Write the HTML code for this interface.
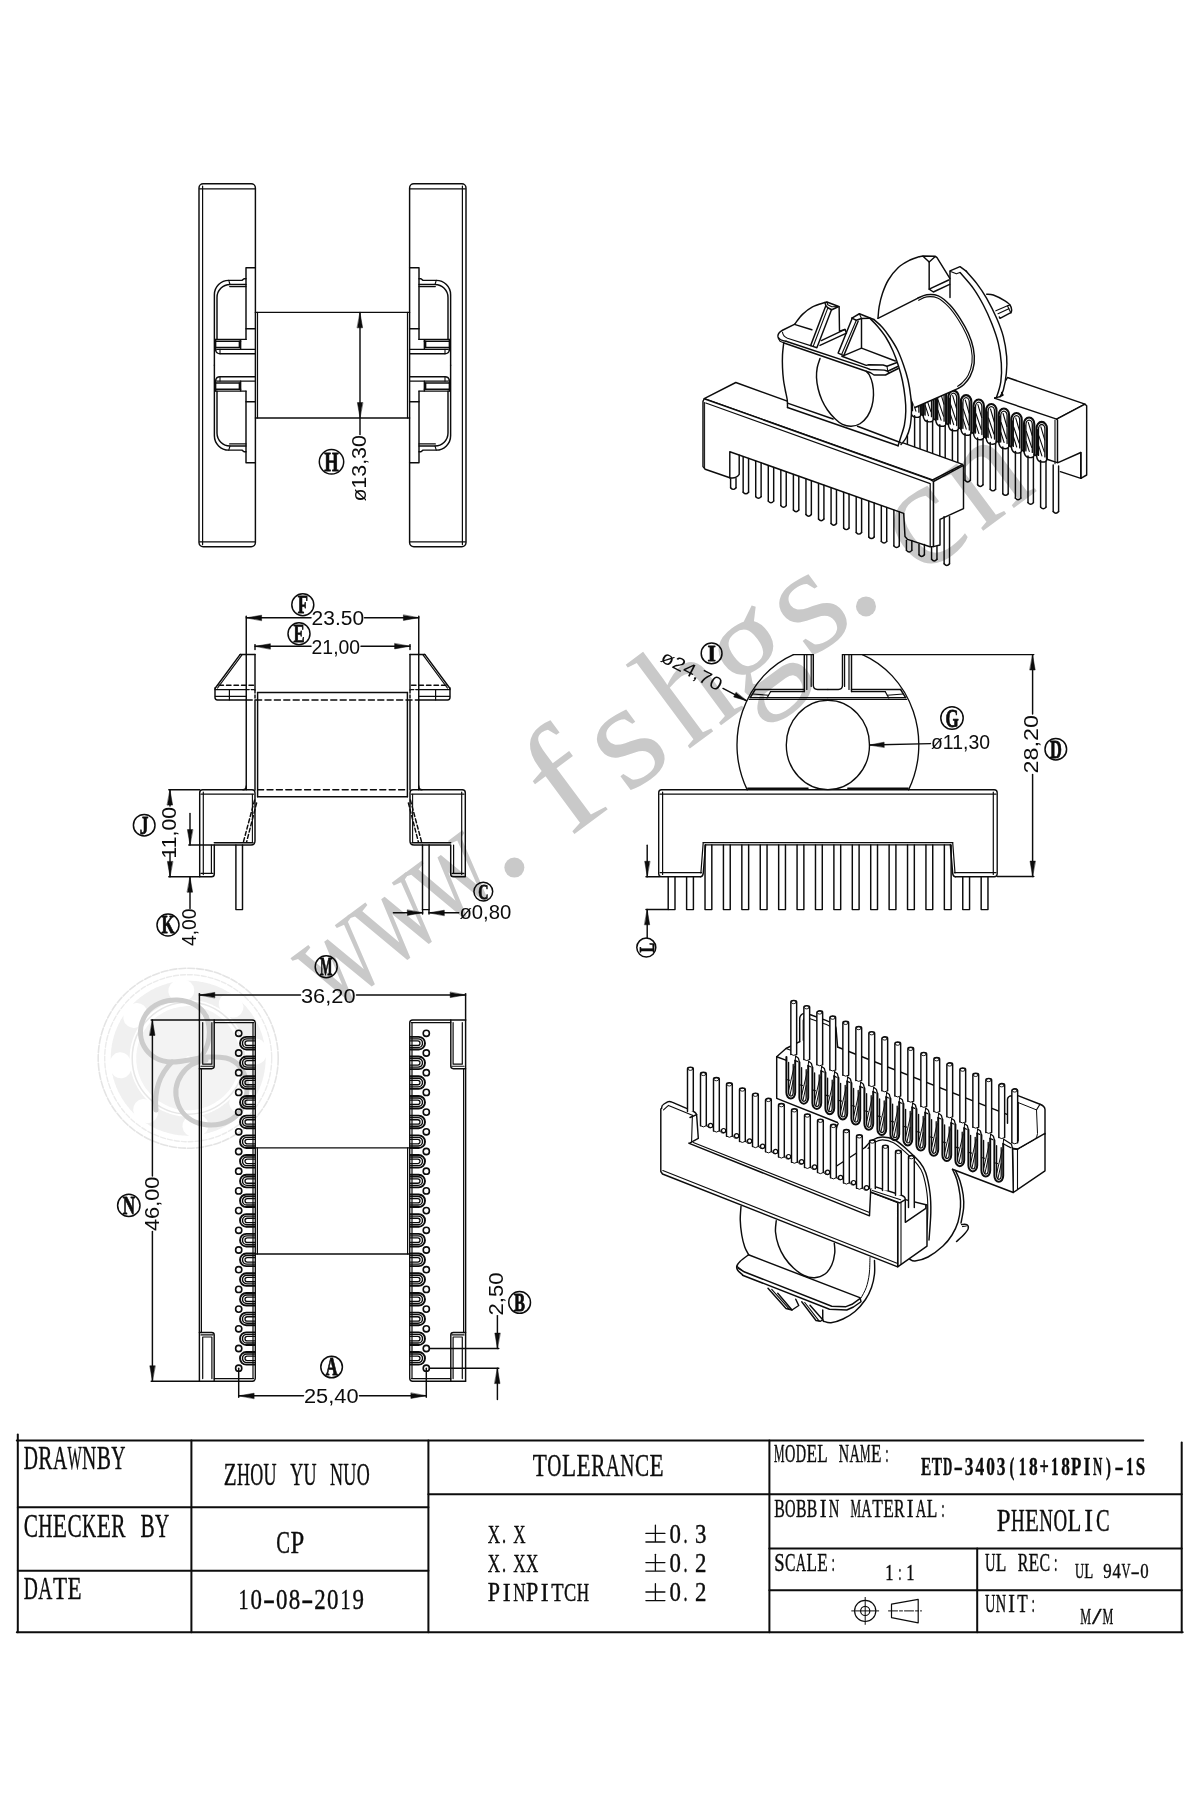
<!DOCTYPE html>
<html><head><meta charset="utf-8"><title>ETD-3403(18+18PIN)-1S</title>
<style>
html,body{margin:0;padding:0;background:#fff;}
body{width:1200px;height:1800px;overflow:hidden;font-family:"Liberation Sans",sans-serif;}
svg{display:block;opacity:0.9999;will-change:transform;}
</style></head><body>
<svg width="1200" height="1800" viewBox="0 0 1200 1800" fill="none" stroke="#0c0c0c" stroke-width="1.45" stroke-linecap="round" stroke-linejoin="round">
<rect x="0" y="0" width="1200" height="1800" fill="#ffffff" stroke="none"/>
<g id="title">
<path d="M17.8,1434.5 L17.8,1632.2" stroke-width="2"/>
<path d="M16.8,1440.6 L1143.3,1440.6" stroke-width="2"/>
<path d="M16.8,1632.2 L1182.7,1632.2" stroke-width="2"/>
<path d="M1181.7,1442.5 L1181.7,1632.2" stroke-width="2"/>
<path d="M191.4,1440.6 L191.4,1632.2" stroke-width="2"/>
<path d="M428.4,1440.6 L428.4,1632.2" stroke-width="2"/>
<path d="M769.4,1440.6 L769.4,1632.2" stroke-width="2"/>
<path d="M17.8,1507.2 L428.4,1507.2" stroke-width="2"/>
<path d="M17.8,1570.8 L428.4,1570.8" stroke-width="2"/>
<path d="M428.4,1494.2 L1181.7,1494.2" stroke-width="2"/>
<path d="M769.4,1548.6 L1181.7,1548.6" stroke-width="2"/>
<path d="M769.4,1590.2 L1181.7,1590.2" stroke-width="2"/>
<path d="M977.2,1548.6 L977.2,1632.2" stroke-width="2"/>
<text transform="translate(0 1469.4) scale(0.6 1)" x="51.33 100 148.67 197.33" y="0" font-family="Liberation Serif, serif" font-size="32.82" text-anchor="middle" fill="#0c0c0c" stroke="#0c0c0c" stroke-width="0.4">DANY</text><text transform="translate(0 1469.4) scale(0.65 1)" x="69.85 159.69" y="0" font-family="Liberation Serif, serif" font-size="32.82" text-anchor="middle" fill="#0c0c0c" stroke="#0c0c0c" stroke-width="0.4">RB</text><text transform="translate(0 1469.4) scale(0.46 1)" x="162.17" y="0" font-family="Liberation Serif, serif" font-size="32.82" text-anchor="middle" fill="#0c0c0c" stroke="#0c0c0c" stroke-width="0.4">W</text>
<text transform="translate(0 1537) scale(0.65 1)" x="47.38 114.77 182.15 227.08" y="0" font-family="Liberation Serif, serif" font-size="32.82" text-anchor="middle" fill="#0c0c0c" stroke="#0c0c0c" stroke-width="0.4">CCRB</text><text transform="translate(0 1537) scale(0.6 1)" x="75.67 148.67 270.33" y="0" font-family="Liberation Serif, serif" font-size="32.82" text-anchor="middle" fill="#0c0c0c" stroke="#0c0c0c" stroke-width="0.4">HKY</text><text transform="translate(0 1537) scale(0.71 1)" x="84.51 146.2" y="0" font-family="Liberation Serif, serif" font-size="32.82" text-anchor="middle" fill="#0c0c0c" stroke="#0c0c0c" stroke-width="0.4">EE</text>
<text transform="translate(0 1598.8) scale(0.61 1)" x="50.49 74.43" y="0" font-family="Liberation Serif, serif" font-size="32.06" text-anchor="middle" fill="#0c0c0c" stroke="#0c0c0c" stroke-width="0.4">DA</text><text transform="translate(0 1598.8) scale(0.72 1)" x="83.33 103.61" y="0" font-family="Liberation Serif, serif" font-size="32.06" text-anchor="middle" fill="#0c0c0c" stroke="#0c0c0c" stroke-width="0.4">TE</text>
<text transform="translate(0 1485.4) scale(0.69 1)" x="333.55" y="0" font-family="Liberation Serif, serif" font-size="30.53" text-anchor="middle" fill="#0c0c0c" stroke="#0c0c0c" stroke-width="0.4">Z</text><text transform="translate(0 1485.4) scale(0.59 1)" x="412.63 435.17 457.71 502.8 525.34 570.42 592.97 615.51" y="0" font-family="Liberation Serif, serif" font-size="30.53" text-anchor="middle" fill="#0c0c0c" stroke="#0c0c0c" stroke-width="0.4">HOUYUNUO</text>
<text transform="translate(0 1552.6) scale(0.64 1)" x="442.34" y="0" font-family="Liberation Serif, serif" font-size="32.06" text-anchor="middle" fill="#0c0c0c" stroke="#0c0c0c" stroke-width="0.4">C</text><text transform="translate(0 1552.6) scale(0.77 1)" x="386.1" y="0" font-family="Liberation Serif, serif" font-size="32.06" text-anchor="middle" fill="#0c0c0c" stroke="#0c0c0c" stroke-width="0.4">P</text>
<text transform="translate(0 1609.4) scale(0.69 1)" x="353.01 500.83" y="0" font-family="Liberation Serif, serif" font-size="29.01" text-anchor="middle" fill="#0c0c0c" stroke="#0c0c0c" stroke-width="0.4">11</text><text transform="translate(0 1609.4) scale(0.79 1)" x="324.46 356.74 372.88 405.16 421.3 453.58" y="0" font-family="Liberation Serif, serif" font-size="29.01" text-anchor="middle" fill="#0c0c0c" stroke="#0c0c0c" stroke-width="0.4">008209</text><text transform="translate(0 1609.4) scale(1.25 1)" x="215.26 245.86" y="0" font-family="Liberation Serif, serif" font-size="29.01" text-anchor="middle" fill="#0c0c0c" stroke="#0c0c0c" stroke-width="0.4">--</text>
<text transform="translate(0 1475.8) scale(0.72 1)" x="749.72 790.28 810.56 911.94" y="0" font-family="Liberation Serif, serif" font-size="32.06" text-anchor="middle" fill="#0c0c0c" stroke="#0c0c0c" stroke-width="0.4">TLEE</text><text transform="translate(0 1475.8) scale(0.61 1)" x="908.85 1004.59 1028.52" y="0" font-family="Liberation Serif, serif" font-size="32.06" text-anchor="middle" fill="#0c0c0c" stroke="#0c0c0c" stroke-width="0.4">OAN</text><text transform="translate(0 1475.8) scale(0.66 1)" x="906.36 972.73" y="0" font-family="Liberation Serif, serif" font-size="32.06" text-anchor="middle" fill="#0c0c0c" stroke="#0c0c0c" stroke-width="0.4">RC</text>
<text transform="translate(0 1542.6) scale(0.65 1)" x="759.92 799" y="0" font-family="Liberation Serif, serif" font-size="26.26" text-anchor="middle" fill="#0c0c0c" stroke="#0c0c0c" stroke-width="0.4">XX</text><text transform="translate(0 1542.6) scale(0.62 1)" x="813.08" y="0" font-family="Liberation Serif, serif" font-size="26.26" text-anchor="middle" fill="#0c0c0c" stroke="#0c0c0c" stroke-width="0.4">.</text>
<text transform="translate(0 1571.8) scale(0.65 1)" x="759.92 799 818.54" y="0" font-family="Liberation Serif, serif" font-size="26.26" text-anchor="middle" fill="#0c0c0c" stroke="#0c0c0c" stroke-width="0.4">XXX</text><text transform="translate(0 1571.8) scale(0.62 1)" x="813.08" y="0" font-family="Liberation Serif, serif" font-size="26.26" text-anchor="middle" fill="#0c0c0c" stroke="#0c0c0c" stroke-width="0.4">.</text>
<text transform="translate(0 1601.2) scale(0.84 1)" x="588.04 633.39" y="0" font-family="Liberation Serif, serif" font-size="26.26" text-anchor="middle" fill="#0c0c0c" stroke="#0c0c0c" stroke-width="0.4">PP</text><text transform="translate(0 1601.2) scale(0.9 1)" x="562.94 605.28" y="0" font-family="Liberation Serif, serif" font-size="26.26" text-anchor="middle" fill="#0c0c0c" stroke="#0c0c0c" stroke-width="0.4">II</text><text transform="translate(0 1601.2) scale(0.65 1)" x="799 896.69" y="0" font-family="Liberation Serif, serif" font-size="26.26" text-anchor="middle" fill="#0c0c0c" stroke="#0c0c0c" stroke-width="0.4">NH</text><text transform="translate(0 1601.2) scale(0.77 1)" x="723.96" y="0" font-family="Liberation Serif, serif" font-size="26.26" text-anchor="middle" fill="#0c0c0c" stroke="#0c0c0c" stroke-width="0.4">T</text><text transform="translate(0 1601.2) scale(0.7 1)" x="814.5" y="0" font-family="Liberation Serif, serif" font-size="26.26" text-anchor="middle" fill="#0c0c0c" stroke="#0c0c0c" stroke-width="0.4">C</text>
<path d="M645.9,1533.4 L664.9,1533.4" stroke-width="1.3"/><path d="M655.4,1525.1 L655.4,1541.4" stroke-width="1.3"/><path d="M645.9,1542 L664.9,1542" stroke-width="1.3"/><text transform="translate(0 1542.6) scale(0.87 1)" x="776.26 805.46" y="0" font-family="Liberation Serif, serif" font-size="26.26" text-anchor="middle" fill="#0c0c0c" stroke="#0c0c0c" stroke-width="0.4">03</text><text transform="translate(0 1542.6) scale(0.62 1)" x="1105.66" y="0" font-family="Liberation Serif, serif" font-size="26.26" text-anchor="middle" fill="#0c0c0c" stroke="#0c0c0c" stroke-width="0.4">.</text>
<path d="M645.9,1562.6 L664.9,1562.6" stroke-width="1.3"/><path d="M655.4,1554.3 L655.4,1570.6" stroke-width="1.3"/><path d="M645.9,1571.2 L664.9,1571.2" stroke-width="1.3"/><text transform="translate(0 1571.8) scale(0.87 1)" x="776.26 805.46" y="0" font-family="Liberation Serif, serif" font-size="26.26" text-anchor="middle" fill="#0c0c0c" stroke="#0c0c0c" stroke-width="0.4">02</text><text transform="translate(0 1571.8) scale(0.62 1)" x="1105.66" y="0" font-family="Liberation Serif, serif" font-size="26.26" text-anchor="middle" fill="#0c0c0c" stroke="#0c0c0c" stroke-width="0.4">.</text>
<path d="M645.9,1592 L664.9,1592" stroke-width="1.3"/><path d="M655.4,1583.7 L655.4,1600" stroke-width="1.3"/><path d="M645.9,1600.6 L664.9,1600.6" stroke-width="1.3"/><text transform="translate(0 1601.2) scale(0.87 1)" x="776.26 805.46" y="0" font-family="Liberation Serif, serif" font-size="26.26" text-anchor="middle" fill="#0c0c0c" stroke="#0c0c0c" stroke-width="0.4">02</text><text transform="translate(0 1601.2) scale(0.62 1)" x="1105.66" y="0" font-family="Liberation Serif, serif" font-size="26.26" text-anchor="middle" fill="#0c0c0c" stroke="#0c0c0c" stroke-width="0.4">.</text>
<text transform="translate(0 1461.8) scale(0.47 1)" x="1658.24 1841.22" y="0" font-family="Liberation Serif, serif" font-size="25.19" text-anchor="middle" fill="#0c0c0c" stroke="#0c0c0c" stroke-width="0.4">MM</text><text transform="translate(0 1461.8) scale(0.57 1)" x="1386.18 1405.04 1480.48 1499.34" y="0" font-family="Liberation Serif, serif" font-size="25.19" text-anchor="middle" fill="#0c0c0c" stroke="#0c0c0c" stroke-width="0.4">ODNA</text><text transform="translate(0 1461.8) scale(0.68 1)" x="1193.57 1209.38 1288.42" y="0" font-family="Liberation Serif, serif" font-size="25.19" text-anchor="middle" fill="#0c0c0c" stroke="#0c0c0c" stroke-width="0.4">ELE</text><text transform="translate(0 1461.8) scale(0.49 1)" x="1809.95" y="0" font-family="Liberation Serif, serif" font-size="25.19" text-anchor="middle" fill="#0c0c0c" stroke="#0c0c0c" stroke-width="0.4">:</text>
<text transform="translate(0 1474.6) scale(0.61 1)" x="1518.3 1535.87" y="0" font-family="Liberation Serif, serif" font-size="25.19" font-weight="bold" text-anchor="middle" fill="#0c0c0c" stroke="#0c0c0c" stroke-width="0.4">ET</text><text transform="translate(0 1474.6) scale(0.51 1)" x="1858.04 2152.31" y="0" font-family="Liberation Serif, serif" font-size="25.19" font-weight="bold" text-anchor="middle" fill="#0c0c0c" stroke="#0c0c0c" stroke-width="0.4">DN</text><text transform="translate(0 1474.6) scale(1.09 1)" x="879.19 1026.72" y="0" font-family="Liberation Serif, serif" font-size="25.19" font-weight="bold" text-anchor="middle" fill="#0c0c0c" stroke="#0c0c0c" stroke-width="0.4">--</text><text transform="translate(0 1474.6) scale(0.69 1)" x="1404.41 1419.94 1435.48 1451.01 1497.62 1544.23" y="0" font-family="Liberation Serif, serif" font-size="25.19" font-weight="bold" text-anchor="middle" fill="#0c0c0c" stroke="#0c0c0c" stroke-width="0.4">340388</text><text transform="translate(0 1474.6) scale(0.58 1)" x="1744.69 1911.03" y="0" font-family="Liberation Serif, serif" font-size="25.19" font-weight="bold" text-anchor="middle" fill="#0c0c0c" stroke="#0c0c0c" stroke-width="0.4">()</text><text transform="translate(0 1474.6) scale(0.6 1)" x="1704.4 1758 1883.07" y="0" font-family="Liberation Serif, serif" font-size="25.19" font-weight="bold" text-anchor="middle" fill="#0c0c0c" stroke="#0c0c0c" stroke-width="0.4">111</text><text transform="translate(0 1474.6) scale(0.65 1)" x="1606.28" y="0" font-family="Liberation Serif, serif" font-size="25.19" font-weight="bold" text-anchor="middle" fill="#0c0c0c" stroke="#0c0c0c" stroke-width="0.4">+</text><text transform="translate(0 1474.6) scale(0.67 1)" x="1606.33 1702.33" y="0" font-family="Liberation Serif, serif" font-size="25.19" font-weight="bold" text-anchor="middle" fill="#0c0c0c" stroke="#0c0c0c" stroke-width="0.4">PS</text><text transform="translate(0 1474.6) scale(0.71 1)" x="1530.93" y="0" font-family="Liberation Serif, serif" font-size="25.19" font-weight="bold" text-anchor="middle" fill="#0c0c0c" stroke="#0c0c0c" stroke-width="0.4">I</text>
<text transform="translate(0 1516.8) scale(0.63 1)" x="1237.22 1271.83 1289.13 1427.54" y="0" font-family="Liberation Serif, serif" font-size="25.19" text-anchor="middle" fill="#0c0c0c" stroke="#0c0c0c" stroke-width="0.4">BBBR</text><text transform="translate(0 1516.8) scale(0.58 1)" x="1362.67 1437.84 1494.22 1588.19" y="0" font-family="Liberation Serif, serif" font-size="25.19" text-anchor="middle" fill="#0c0c0c" stroke="#0c0c0c" stroke-width="0.4">ONAA</text><text transform="translate(0 1516.8) scale(0.81 1)" x="1016.11 1123.77" y="0" font-family="Liberation Serif, serif" font-size="25.19" text-anchor="middle" fill="#0c0c0c" stroke="#0c0c0c" stroke-width="0.4">II</text><text transform="translate(0 1516.8) scale(0.47 1)" x="1820.74" y="0" font-family="Liberation Serif, serif" font-size="25.19" text-anchor="middle" fill="#0c0c0c" stroke="#0c0c0c" stroke-width="0.4">M</text><text transform="translate(0 1516.8) scale(0.69 1)" x="1271.81 1287.61 1350.8" y="0" font-family="Liberation Serif, serif" font-size="25.19" text-anchor="middle" fill="#0c0c0c" stroke="#0c0c0c" stroke-width="0.4">TEL</text><text transform="translate(0 1516.8) scale(0.5 1)" x="1885.9" y="0" font-family="Liberation Serif, serif" font-size="25.19" text-anchor="middle" fill="#0c0c0c" stroke="#0c0c0c" stroke-width="0.4">:</text>
<text transform="translate(0 1530.8) scale(0.81 1)" x="1239.1" y="0" font-family="Liberation Serif, serif" font-size="30.53" text-anchor="middle" fill="#0c0c0c" stroke="#0c0c0c" stroke-width="0.4">P</text><text transform="translate(0 1530.8) scale(0.62 1)" x="1641.65 1687.3 1710.12" y="0" font-family="Liberation Serif, serif" font-size="30.53" text-anchor="middle" fill="#0c0c0c" stroke="#0c0c0c" stroke-width="0.4">HNO</text><text transform="translate(0 1530.8) scale(0.74 1)" x="1394.56 1451.93" y="0" font-family="Liberation Serif, serif" font-size="30.53" text-anchor="middle" fill="#0c0c0c" stroke="#0c0c0c" stroke-width="0.4">EL</text><text transform="translate(0 1530.8) scale(0.86 1)" x="1265.78" y="0" font-family="Liberation Serif, serif" font-size="30.53" text-anchor="middle" fill="#0c0c0c" stroke="#0c0c0c" stroke-width="0.4">I</text><text transform="translate(0 1530.8) scale(0.67 1)" x="1645.86" y="0" font-family="Liberation Serif, serif" font-size="30.53" text-anchor="middle" fill="#0c0c0c" stroke="#0c0c0c" stroke-width="0.4">C</text>
<text transform="translate(0 1570.8) scale(0.74 1)" x="1053.21" y="0" font-family="Liberation Serif, serif" font-size="25.19" text-anchor="middle" fill="#0c0c0c" stroke="#0c0c0c" stroke-width="0.4">S</text><text transform="translate(0 1570.8) scale(0.62 1)" x="1274.4" y="0" font-family="Liberation Serif, serif" font-size="25.19" text-anchor="middle" fill="#0c0c0c" stroke="#0c0c0c" stroke-width="0.4">C</text><text transform="translate(0 1570.8) scale(0.57 1)" x="1405.04" y="0" font-family="Liberation Serif, serif" font-size="25.19" text-anchor="middle" fill="#0c0c0c" stroke="#0c0c0c" stroke-width="0.4">A</text><text transform="translate(0 1570.8) scale(0.68 1)" x="1193.57 1209.38" y="0" font-family="Liberation Serif, serif" font-size="25.19" text-anchor="middle" fill="#0c0c0c" stroke="#0c0c0c" stroke-width="0.4">LE</text><text transform="translate(0 1570.8) scale(0.49 1)" x="1700.26" y="0" font-family="Liberation Serif, serif" font-size="25.19" text-anchor="middle" fill="#0c0c0c" stroke="#0c0c0c" stroke-width="0.4">:</text>
<text transform="translate(0 1579.8) scale(0.72 1)" x="1235.14 1264.58" y="0" font-family="Liberation Serif, serif" font-size="22.9" text-anchor="middle" fill="#0c0c0c" stroke="#0c0c0c" stroke-width="0.4">11</text><text transform="translate(0 1579.8) scale(0.53 1)" x="1697.92" y="0" font-family="Liberation Serif, serif" font-size="22.9" text-anchor="middle" fill="#0c0c0c" stroke="#0c0c0c" stroke-width="0.4">:</text>
<text transform="translate(0 1570.8) scale(0.58 1)" x="1707.33" y="0" font-family="Liberation Serif, serif" font-size="25.19" text-anchor="middle" fill="#0c0c0c" stroke="#0c0c0c" stroke-width="0.4">U</text><text transform="translate(0 1570.8) scale(0.69 1)" x="1450.94 1498.33" y="0" font-family="Liberation Serif, serif" font-size="25.19" text-anchor="middle" fill="#0c0c0c" stroke="#0c0c0c" stroke-width="0.4">LE</text><text transform="translate(0 1570.8) scale(0.63 1)" x="1623.73 1658.33" y="0" font-family="Liberation Serif, serif" font-size="25.19" text-anchor="middle" fill="#0c0c0c" stroke="#0c0c0c" stroke-width="0.4">RC</text><text transform="translate(0 1570.8) scale(0.5 1)" x="2111.3" y="0" font-family="Liberation Serif, serif" font-size="25.19" text-anchor="middle" fill="#0c0c0c" stroke="#0c0c0c" stroke-width="0.4">:</text>
<text transform="translate(0 1578) scale(0.6 1)" x="1799.08 1876.58" y="0" font-family="Liberation Serif, serif" font-size="20.76" text-anchor="middle" fill="#0c0c0c" stroke="#0c0c0c" stroke-width="0.4">UV</text><text transform="translate(0 1578) scale(0.71 1)" x="1533.45" y="0" font-family="Liberation Serif, serif" font-size="20.76" text-anchor="middle" fill="#0c0c0c" stroke="#0c0c0c" stroke-width="0.4">L</text><text transform="translate(0 1578) scale(0.81 1)" x="1367.1 1378.58 1413.02" y="0" font-family="Liberation Serif, serif" font-size="20.76" text-anchor="middle" fill="#0c0c0c" stroke="#0c0c0c" stroke-width="0.4">940</text><text transform="translate(0 1578) scale(1.28 1)" x="886.91" y="0" font-family="Liberation Serif, serif" font-size="20.76" text-anchor="middle" fill="#0c0c0c" stroke="#0c0c0c" stroke-width="0.4">-</text>
<text transform="translate(0 1612.2) scale(0.57 1)" x="1737.15 1756.01" y="0" font-family="Liberation Serif, serif" font-size="25.19" text-anchor="middle" fill="#0c0c0c" stroke="#0c0c0c" stroke-width="0.4">UN</text><text transform="translate(0 1612.2) scale(0.79 1)" x="1280.6" y="0" font-family="Liberation Serif, serif" font-size="25.19" text-anchor="middle" fill="#0c0c0c" stroke="#0c0c0c" stroke-width="0.4">I</text><text transform="translate(0 1612.2) scale(0.68 1)" x="1503.57" y="0" font-family="Liberation Serif, serif" font-size="25.19" text-anchor="middle" fill="#0c0c0c" stroke="#0c0c0c" stroke-width="0.4">T</text><text transform="translate(0 1612.2) scale(0.49 1)" x="2108.52" y="0" font-family="Liberation Serif, serif" font-size="25.19" text-anchor="middle" fill="#0c0c0c" stroke="#0c0c0c" stroke-width="0.4">:</text>
<text transform="translate(0 1624) scale(0.53 1)" x="2048.3 2090.57" y="0" font-family="Liberation Serif, serif" font-size="22.9" text-anchor="middle" fill="#0c0c0c" stroke="#0c0c0c" stroke-width="0.4">MM</text><text transform="translate(0 1624) scale(1.5 1)" x="731.2" y="0" font-family="Liberation Serif, serif" font-size="22.9" text-anchor="middle" fill="#0c0c0c" stroke="#0c0c0c" stroke-width="0.4">/</text>
<circle cx="865.2" cy="1610.9" r="10.6" stroke-width="1.2"/>
<circle cx="865.2" cy="1610.9" r="4.6" stroke-width="1.2"/>
<path d="M851.7,1610.9 L878.7,1610.9" stroke-width="1"/>
<path d="M865.2,1597.4 L865.2,1624.4" stroke-width="1"/>
<path d="M891.5,1604.2 L918.2,1599.4 L918.2,1622.8 L891.5,1617.6Z" stroke-width="1.2"/>
<path d="M888.5,1610.9 L921.5,1610.9" stroke-width="1" stroke-dasharray="9 2 3 2"/>
</g>
<g id="v1">
<g id="v1q"><path d="M255.38,267.75 L246,267.75 L246,339.38"/>
<path d="M246,328.75 L255.38,328.75"/>
<path d="M246,278.75 L244,278.75 L242,280.38 L228.75,280.38 A14.4,14.4 0 0 0 214.38,294.75 L214.38,365.25"/>
<path d="M246,284.5 L230,284.5 A13,13 0 0 0 217,297.5 L217,339.38"/>
<path d="M246,286.62 L229.75,286.62"/>
<path d="M228.75,280.38 L230,284.5" stroke-width="1.1"/>
<path d="M215.62,339.38 L246,339.38"/>
<path d="M215.62,341.25 L240.62,341.25"/>
<path d="M215.62,347.5 L239.38,347.5"/>
<path d="M239.38,341.25 L239.38,347.5"/>
<path d="M240.62,339.62 L240.62,349.38"/>
<path d="M215.62,339.38 L215.62,350.25"/>
<path d="M216.88,349.38 L255.38,349.38"/>
<path d="M215.62,350 Q216.25,353.75 220,353.75 L255.38,353.75"/>
<path d="M220,349.38 L220,353.75" stroke-width="1.1"/></g>
<use href="#v1q" transform="translate(0 730.5) scale(1 -1)"/>
<use href="#v1q" transform="translate(665 0) scale(-1 1)"/>
<use href="#v1q" transform="translate(665 730.5) scale(-1 -1)"/>
<rect x="199" y="183.8" width="56.4" height="363" rx="4.2" ry="4.2"/>
<path d="M202.6,186 L202.6,544.6" stroke-width="1.2"/>
<path d="M199.6,188.8 L254.8,188.8" stroke-width="1.2"/>
<path d="M199.6,541.8 L254.8,541.8" stroke-width="1.2"/>
<rect x="409.6" y="183.8" width="56.4" height="363" rx="4.2" ry="4.2"/>
<path d="M462.4,186 L462.4,544.6" stroke-width="1.2"/>
<path d="M410.2,188.8 L465.4,188.8" stroke-width="1.2"/>
<path d="M410.2,541.8 L465.4,541.8" stroke-width="1.2"/>
<path d="M255.4,312.4 L409.6,312.4" stroke-width="1.4"/>
<path d="M255.4,418 L409.6,418" stroke-width="1.4"/>
<path d="M257.5,312.4 L257.5,418" stroke-width="1.2"/>
<path d="M407.5,312.4 L407.5,418" stroke-width="1.2"/>
<path d="M360,312.4 L360,434.6"/>
<path d="M360,312.8 L362.6,327.8 L357.4,327.8 Z" fill="#0c0c0c" stroke="#0c0c0c" stroke-width="0.5"/>
<path d="M360,417.6 L357.4,402.6 L362.6,402.6 Z" fill="#0c0c0c" stroke="#0c0c0c" stroke-width="0.5"/>
<text x="366.2" y="501.6" font-family="Liberation Sans, sans-serif" font-size="19.8" text-anchor="start" fill="#0c0c0c" stroke="none" textLength="66.5" lengthAdjust="spacingAndGlyphs" transform="rotate(-90 366.2 501.6)">&#248;13,30</text>
<circle cx="331.5" cy="461.8" r="12.2" stroke-width="1.5"/><text transform="translate(331.5 461.8) rotate(0) scale(0.66 1)" x="0" y="9.4" font-family="Liberation Serif, serif" font-weight="bold" font-size="28.06" text-anchor="middle" fill="#0c0c0c" stroke="#0c0c0c" stroke-width="0.8">H</text>
</g>
<g id="v2">
<g id="v2h"><path d="M246.25,654.4 L246.25,789.7"/>
<path d="M255,654.4 L255,690"/>
<path d="M255,690 L255,700" stroke-dasharray="3 2"/>
<path d="M255,700 L255,790"/>
<path d="M257.6,692.5 L257.6,796.7"/>
<path d="M240.2,654.4 L255,654.4"/>
<path d="M240.2,654.4 L215.2,688.2"/>
<path d="M242,654.8 L217.6,688" stroke-width="1.2"/>
<path d="M215,688 V697.6 Q215,700 217.4,700 H246.2"/>
<path d="M215,689.6 L246.2,689.6"/>
<path d="M215.4,696.3 L246.2,696.3" stroke-width="1.2"/>
<path d="M229.4,689.6 L229.4,700" stroke-width="1.2"/>
<path d="M219,685.3 L255,685.3" stroke-dasharray="4.5 3"/>
<path d="M246.2,689.6 L255,689.6" stroke-dasharray="3 2"/>
<path d="M199.7,876.8 V792.7 Q199.7,789.7 202.7,789.7 H252 Q255,789.7 255,792.7 V841 Q255,845 251,845 H214.3 V874 Q214.3,876.8 211.5,876.8 H199.7"/>
<path d="M203.3,792 L203.3,874.6" stroke-width="1.2"/>
<path d="M201,794.2 L253.5,794.2" stroke-width="1.2"/>
<path d="M211.4,845 L211.4,873.4" stroke-width="1.2"/>
<path d="M201,873.4 L213,873.4" stroke-width="1.2"/>
<path d="M214.3,842.8 L253,842.8"/>
<path d="M252.4,794.2 L252.4,842" stroke-width="1.1"/>
<path d="M254.6,800 L243.4,842" stroke-dasharray="4 2.5"/>
<path d="M256.6,803 L246.6,842" stroke-dasharray="4 2.5"/>
<path d="M246.25,786 Q246.25,789.7 243,789.7"/>
<path d="M235.9,845 L235.9,909.6 L242.5,909.6 L242.5,845"/></g>
<use href="#v2h" transform="translate(665 0) scale(-1 1)"/>
<path d="M257.6,692.5 L407.4,692.5"/>
<path d="M257.6,796.7 L407.4,796.7"/>
<path d="M246.2,700 L418.8,700" stroke-width="1.5" stroke-dasharray="6 3.4"/>
<path d="M257.6,789.7 L407.4,789.7" stroke-width="1.4" stroke-dasharray="6 3.4"/>
<path d="M246.25,616.2 L246.25,654.4"/>
<path d="M418.75,616.2 L418.75,654.4"/>
<path d="M246.25,617.8 L311,617.8"/>
<path d="M364.5,617.8 L418.75,617.8"/>
<path d="M246.6,617.8 L261.6,615.2 L261.6,620.4 Z" fill="#0c0c0c" stroke="#0c0c0c" stroke-width="0.5"/>
<path d="M418.4,617.8 L403.4,620.4 L403.4,615.2 Z" fill="#0c0c0c" stroke="#0c0c0c" stroke-width="0.5"/>
<text x="311.6" y="625.4" font-family="Liberation Sans, sans-serif" font-size="19.4" text-anchor="start" fill="#0c0c0c" stroke="none" textLength="52.5" lengthAdjust="spacingAndGlyphs">23.50</text>
<circle cx="302.8" cy="604.8" r="11" stroke-width="1.5"/><text transform="translate(302.8 604.8) rotate(0) scale(0.66 1)" x="0" y="8.48" font-family="Liberation Serif, serif" font-weight="bold" font-size="25.3" text-anchor="middle" fill="#0c0c0c" stroke="#0c0c0c" stroke-width="0.8">F</text>
<path d="M255,644.6 L255,649.6"/>
<path d="M410,644.6 L410,649.6"/>
<path d="M255,646.3 L311,646.3"/>
<path d="M361,646.3 L410,646.3"/>
<path d="M255.4,646.3 L270.4,643.7 L270.4,648.9 Z" fill="#0c0c0c" stroke="#0c0c0c" stroke-width="0.5"/>
<path d="M409.6,646.3 L394.6,648.9 L394.6,643.7 Z" fill="#0c0c0c" stroke="#0c0c0c" stroke-width="0.5"/>
<text x="311.6" y="654" font-family="Liberation Sans, sans-serif" font-size="19.4" text-anchor="start" fill="#0c0c0c" stroke="none" textLength="48.5" lengthAdjust="spacingAndGlyphs">21,00</text>
<circle cx="299" cy="633.8" r="11" stroke-width="1.5"/><text transform="translate(299 633.8) rotate(0) scale(0.66 1)" x="0" y="8.48" font-family="Liberation Serif, serif" font-weight="bold" font-size="25.3" text-anchor="middle" fill="#0c0c0c" stroke="#0c0c0c" stroke-width="0.8">E</text>
<path d="M168.8,789.7 L199.7,789.7"/>
<path d="M168.8,876.8 L199.7,876.8"/>
<path d="M170,789.7 L170,806"/>
<path d="M170,853.5 L170,876.8"/>
<path d="M170,790.1 L172.6,805.1 L167.4,805.1 Z" fill="#0c0c0c" stroke="#0c0c0c" stroke-width="0.5"/>
<path d="M170,876.4 L167.4,861.4 L172.6,861.4 Z" fill="#0c0c0c" stroke="#0c0c0c" stroke-width="0.5"/>
<text x="175.6" y="858.4" font-family="Liberation Sans, sans-serif" font-size="19.4" text-anchor="start" fill="#0c0c0c" stroke="none" textLength="51.5" lengthAdjust="spacingAndGlyphs" transform="rotate(-90 175.6 858.4)">11,00</text>
<circle cx="144.2" cy="825.2" r="10.8" stroke-width="1.5"/><text transform="translate(144.2 825.2) rotate(0) scale(0.7 1)" x="0" y="8.32" font-family="Liberation Serif, serif" font-weight="bold" font-size="24.84" text-anchor="middle" fill="#0c0c0c" stroke="#0c0c0c" stroke-width="0.8">J</text>
<path d="M188.8,845 L214.3,845"/>
<path d="M190,813.4 L190,845"/>
<path d="M190,844.6 L187.4,829.6 L192.6,829.6 Z" fill="#0c0c0c" stroke="#0c0c0c" stroke-width="0.5"/>
<path d="M190,876.8 L190,908.4"/>
<path d="M190,877.2 L192.6,892.2 L187.4,892.2 Z" fill="#0c0c0c" stroke="#0c0c0c" stroke-width="0.5"/>
<text x="195.6" y="946" font-family="Liberation Sans, sans-serif" font-size="19.4" text-anchor="start" fill="#0c0c0c" stroke="none" textLength="37.5" lengthAdjust="spacingAndGlyphs" transform="rotate(-90 195.6 946)">4,00</text>
<circle cx="168" cy="925" r="11" stroke-width="1.5"/><text transform="translate(168 925) rotate(0) scale(0.66 1)" x="0" y="8.48" font-family="Liberation Serif, serif" font-weight="bold" font-size="25.3" text-anchor="middle" fill="#0c0c0c" stroke="#0c0c0c" stroke-width="0.8">K</text>
<path d="M422.6,909.6 L422.6,914"/>
<path d="M429,909.6 L429,914"/>
<path d="M393.4,912.8 L422.6,912.8"/>
<path d="M422.3,912.8 L407.3,915.4 L407.3,910.2 Z" fill="#0c0c0c" stroke="#0c0c0c" stroke-width="0.5"/>
<path d="M429,912.8 L458.8,912.8"/>
<path d="M429.3,912.8 L444.3,910.2 L444.3,915.4 Z" fill="#0c0c0c" stroke="#0c0c0c" stroke-width="0.5"/>
<text x="459.4" y="919.4" font-family="Liberation Sans, sans-serif" font-size="19.6" text-anchor="start" fill="#0c0c0c" stroke="none" textLength="52" lengthAdjust="spacingAndGlyphs">&#248;0,80</text>
<circle cx="483.3" cy="891.6" r="9.4" stroke-width="1.5"/><text transform="translate(483.3 891.6) rotate(0) scale(0.66 1)" x="0" y="7.24" font-family="Liberation Serif, serif" font-weight="bold" font-size="21.62" text-anchor="middle" fill="#0c0c0c" stroke="#0c0c0c" stroke-width="0.8">C</text>
</g>
<g id="v3">
<g id="v3h"><path d="M793.41,654.6 A90.9,97.6 0 0 0 747.24,789.9" stroke-width="1.35"/>
<path d="M793.41,654.6 L813.3,654.6" stroke-width="1.35"/>
<path d="M804.3,654.6 L804.3,691.6"/>
<path d="M806.8,654.6 L806.8,689.4" stroke-width="1.2"/>
<path d="M811.2,654.6 L811.2,686.5" stroke-width="1.2"/>
<path d="M813.3,654.6 V685.5 Q813.6,689.4 817.5,689.4 H827.9"/>
<path d="M755.2,689.5 L804.3,689.5"/>
<path d="M770.5,691.7 L804.3,691.7" stroke-width="1.2"/>
<path d="M755.2,689.5 L750.2,697.6"/>
<path d="M770.5,691.7 L767,698" stroke-width="1.2"/>
<path d="M750.2,697.6 L827.9,697.6"/>
<path d="M749.2,699.4 L827.9,699.4" stroke-width="1.2"/>
<path d="M752.5,694 L768.5,695.2" stroke-width="1.1"/>
<path d="M747.74,788.3 L808,788.3"/></g>
<use href="#v3h" transform="translate(1655.8 0) scale(-1 1)"/>
<ellipse cx="827.9" cy="745" rx="41.6" ry="44.6" stroke-width="1.35"/>
<path d="M700.5,876.7 H661.7 Q658.7,876.7 658.7,873.7 V792.7 Q658.7,789.7 661.7,789.7 H994.2 Q997.2,789.7 997.2,792.7 V873.7 Q997.2,876.7 994.2,876.7 H955.4" stroke-width="1.35"/>
<path d="M662.6,792 L662.6,874.5" stroke-width="1.2"/>
<path d="M993.3,792 L993.3,874.5" stroke-width="1.2"/>
<path d="M660,794.2 L996,794.2" stroke-width="1.2"/>
<path d="M660,872.6 L701.5,872.6" stroke-width="1.2"/>
<path d="M954.4,872.6 L996,872.6" stroke-width="1.2"/>
<path d="M700.5,876.7 Q702.8,876.7 703.2,873.7 L705.6,844.8"/>
<path d="M700.9,873 L703.2,842.6" stroke-width="1.2"/>
<path d="M955.4,876.7 Q953.1,876.7 952.7,873.7 L950.3,844.8"/>
<path d="M955,873 L952.7,842.6" stroke-width="1.2"/>
<path d="M703.2,842.6 L952.7,842.6" stroke-width="1.3"/>
<path d="M705.6,844.8 L950.3,844.8" stroke-width="1.3"/>
<path d="M668.2,876.9 L668.2,909.6 L675,909.6 L675,876.9"/>
<path d="M686.61,876.9 L686.61,909.6 L693.41,909.6 L693.41,876.9"/>
<path d="M705.02,845 L705.02,909.6 L711.82,909.6 L711.82,845"/>
<path d="M723.43,845 L723.43,909.6 L730.23,909.6 L730.23,845"/>
<path d="M741.84,845 L741.84,909.6 L748.64,909.6 L748.64,845"/>
<path d="M760.25,845 L760.25,909.6 L767.05,909.6 L767.05,845"/>
<path d="M778.66,845 L778.66,909.6 L785.46,909.6 L785.46,845"/>
<path d="M797.07,845 L797.07,909.6 L803.87,909.6 L803.87,845"/>
<path d="M815.48,845 L815.48,909.6 L822.28,909.6 L822.28,845"/>
<path d="M833.89,845 L833.89,909.6 L840.69,909.6 L840.69,845"/>
<path d="M852.3,845 L852.3,909.6 L859.1,909.6 L859.1,845"/>
<path d="M870.71,845 L870.71,909.6 L877.51,909.6 L877.51,845"/>
<path d="M889.12,845 L889.12,909.6 L895.92,909.6 L895.92,845"/>
<path d="M907.53,845 L907.53,909.6 L914.33,909.6 L914.33,845"/>
<path d="M925.94,845 L925.94,909.6 L932.74,909.6 L932.74,845"/>
<path d="M944.35,845 L944.35,909.6 L951.15,909.6 L951.15,845"/>
<path d="M962.76,876.9 L962.76,909.6 L969.56,909.6 L969.56,876.9"/>
<path d="M981.17,876.9 L981.17,909.6 L987.97,909.6 L987.97,876.9"/>
<path d="M862.6,654.6 L1033.8,654.6"/>
<path d="M997.2,876.5 L1033.8,876.5"/>
<path d="M1032.6,654.6 L1032.6,714"/>
<path d="M1032.6,774.5 L1032.6,876.5"/>
<path d="M1032.6,655 L1035.2,670 L1030,670 Z" fill="#0c0c0c" stroke="#0c0c0c" stroke-width="0.5"/>
<path d="M1032.6,876.1 L1030,861.1 L1035.2,861.1 Z" fill="#0c0c0c" stroke="#0c0c0c" stroke-width="0.5"/>
<text x="1038.4" y="773.6" font-family="Liberation Sans, sans-serif" font-size="19.4" text-anchor="start" fill="#0c0c0c" stroke="none" textLength="58.5" lengthAdjust="spacingAndGlyphs" transform="rotate(-90 1038.4 773.6)">28,20</text>
<circle cx="1055.8" cy="749.2" r="10.8" stroke-width="1.5"/><text transform="translate(1055.8 749.2) rotate(0) scale(0.66 1)" x="0" y="8.32" font-family="Liberation Serif, serif" font-weight="bold" font-size="24.84" text-anchor="middle" fill="#0c0c0c" stroke="#0c0c0c" stroke-width="0.8">D</text>
<path d="M869.5,745 L930.5,743.6"/>
<path d="M869.7,745 L884.14,742.17 L884.25,747.17 Z" fill="#0c0c0c" stroke="#0c0c0c" stroke-width="0.5"/>
<text x="931" y="749.4" font-family="Liberation Sans, sans-serif" font-size="19.4" text-anchor="start" fill="#0c0c0c" stroke="none" textLength="59" lengthAdjust="spacingAndGlyphs">&#248;11,30</text>
<circle cx="952" cy="718" r="11.2" stroke-width="1.5"/><text transform="translate(952 718) rotate(0) scale(0.66 1)" x="0" y="8.63" font-family="Liberation Serif, serif" font-weight="bold" font-size="25.76" text-anchor="middle" fill="#0c0c0c" stroke="#0c0c0c" stroke-width="0.8">G</text>
<circle cx="711.6" cy="653.4" r="10.4" stroke-width="1.5"/><text transform="translate(711.6 653.4) rotate(0) scale(0.9 1)" x="0" y="8.01" font-family="Liberation Serif, serif" font-weight="bold" font-size="23.92" text-anchor="middle" fill="#0c0c0c" stroke="#0c0c0c" stroke-width="0.8">I</text>
<path d="M723,688.4 L746.4,700.6"/>
<path d="M746.8,700.9 L733.67,696.88 L735.98,692.45 Z" fill="#0c0c0c" stroke="#0c0c0c" stroke-width="0.5"/>
<text x="659.6" y="661" font-family="Liberation Sans, sans-serif" font-size="18.6" text-anchor="start" fill="#0c0c0c" stroke="none" textLength="66" lengthAdjust="spacingAndGlyphs" transform="rotate(27.5 659.6 661)">&#248;24,70</text>
<path d="M646,876.7 L660,876.7"/>
<path d="M646,909.4 L668.2,909.4"/>
<path d="M647.2,845.2 L647.2,876.7"/>
<path d="M647.2,876.3 L644.7,861.3 L649.7,861.3 Z" fill="#0c0c0c" stroke="#0c0c0c" stroke-width="0.5"/>
<path d="M647.2,909.4 L647.2,938.2"/>
<path d="M647.2,909.8 L649.7,924.8 L644.7,924.8 Z" fill="#0c0c0c" stroke="#0c0c0c" stroke-width="0.5"/>
<circle cx="646.3" cy="947.6" r="9.5" stroke-width="1.5"/><text transform="translate(646.3 947.6) rotate(-90) scale(0.66 1)" x="0" y="7.32" font-family="Liberation Serif, serif" font-weight="bold" font-size="21.85" text-anchor="middle" fill="#0c0c0c" stroke="#0c0c0c" stroke-width="0.8">L</text>
</g>
<g id="v4">
<g id="v4h"><path d="M199.4,1020 V1381.2"/>
<path d="M201.4,1068.7 L201.4,1332.6" stroke-width="1.2"/>
<path d="M199.4,1020 H252.3 Q255.3,1020 255.3,1023 V1378.2 Q255.3,1381.2 252.3,1381.2 H199.4" stroke-width="1.35"/>
<path d="M214.2,1022.6 L253.6,1022.6" stroke-width="1.2"/>
<path d="M214.2,1378.6 L253.6,1378.6" stroke-width="1.2"/>
<path d="M253,1023 L253,1378.2" stroke-width="1.2"/>
<path d="M199.4,1068.7 H211.6 Q214.2,1068.7 214.2,1066.1 V1020"/>
<path d="M202.7,1022.6 L202.7,1064.2 L211.9,1064.2 L211.9,1022.6" stroke-width="1.2"/>
<path d="M201,1066.3 L213,1066.3" stroke-width="1.1"/>
<path d="M199.4,1332.5 H211.6 Q214.2,1332.5 214.2,1335.1 V1381.2"/>
<path d="M202.7,1378.6 L202.7,1337 L211.9,1337 L211.9,1378.6" stroke-width="1.2"/>
<path d="M201,1334.9 L213,1334.9" stroke-width="1.1"/>
<circle cx="238.7" cy="1033.3" r="3.1" stroke-width="1.6"/>
<circle cx="238.7" cy="1053" r="3.1" stroke-width="1.6"/>
<circle cx="238.7" cy="1072.7" r="3.1" stroke-width="1.6"/>
<circle cx="238.7" cy="1092.4" r="3.1" stroke-width="1.6"/>
<circle cx="238.7" cy="1112.1" r="3.1" stroke-width="1.6"/>
<circle cx="238.7" cy="1131.8" r="3.1" stroke-width="1.6"/>
<circle cx="238.7" cy="1151.5" r="3.1" stroke-width="1.6"/>
<circle cx="238.7" cy="1171.2" r="3.1" stroke-width="1.6"/>
<circle cx="238.7" cy="1190.9" r="3.1" stroke-width="1.6"/>
<circle cx="238.7" cy="1210.6" r="3.1" stroke-width="1.6"/>
<circle cx="238.7" cy="1230.3" r="3.1" stroke-width="1.6"/>
<circle cx="238.7" cy="1250" r="3.1" stroke-width="1.6"/>
<circle cx="238.7" cy="1269.7" r="3.1" stroke-width="1.6"/>
<circle cx="238.7" cy="1289.4" r="3.1" stroke-width="1.6"/>
<circle cx="238.7" cy="1309.1" r="3.1" stroke-width="1.6"/>
<circle cx="238.7" cy="1328.8" r="3.1" stroke-width="1.6"/>
<circle cx="238.7" cy="1348.5" r="3.1" stroke-width="1.6"/>
<circle cx="238.7" cy="1368.2" r="3.1" stroke-width="1.6"/>
<path d="M254.6,1036.85 H246.3 A6.3,6.3 0 0 0 246.3,1049.45 H254.6" stroke-width="1.9"/>
<path d="M254.6,1038.85 H246.8 A4.3,4.3 0 0 0 246.8,1047.45 H254.6" stroke-width="1.4"/>
<path d="M254.6,1040.95 H247.2 A2.2,2.2 0 0 0 247.2,1045.35 H254.6" stroke-width="1.3"/>
<path d="M254.6,1056.55 H246.3 A6.3,6.3 0 0 0 246.3,1069.15 H254.6" stroke-width="1.9"/>
<path d="M254.6,1058.55 H246.8 A4.3,4.3 0 0 0 246.8,1067.15 H254.6" stroke-width="1.4"/>
<path d="M254.6,1060.65 H247.2 A2.2,2.2 0 0 0 247.2,1065.05 H254.6" stroke-width="1.3"/>
<path d="M254.6,1076.25 H246.3 A6.3,6.3 0 0 0 246.3,1088.85 H254.6" stroke-width="1.9"/>
<path d="M254.6,1078.25 H246.8 A4.3,4.3 0 0 0 246.8,1086.85 H254.6" stroke-width="1.4"/>
<path d="M254.6,1080.35 H247.2 A2.2,2.2 0 0 0 247.2,1084.75 H254.6" stroke-width="1.3"/>
<path d="M254.6,1095.95 H246.3 A6.3,6.3 0 0 0 246.3,1108.55 H254.6" stroke-width="1.9"/>
<path d="M254.6,1097.95 H246.8 A4.3,4.3 0 0 0 246.8,1106.55 H254.6" stroke-width="1.4"/>
<path d="M254.6,1100.05 H247.2 A2.2,2.2 0 0 0 247.2,1104.45 H254.6" stroke-width="1.3"/>
<path d="M254.6,1115.65 H246.3 A6.3,6.3 0 0 0 246.3,1128.25 H254.6" stroke-width="1.9"/>
<path d="M254.6,1117.65 H246.8 A4.3,4.3 0 0 0 246.8,1126.25 H254.6" stroke-width="1.4"/>
<path d="M254.6,1119.75 H247.2 A2.2,2.2 0 0 0 247.2,1124.15 H254.6" stroke-width="1.3"/>
<path d="M254.6,1135.35 H246.3 A6.3,6.3 0 0 0 246.3,1147.95 H254.6" stroke-width="1.9"/>
<path d="M254.6,1137.35 H246.8 A4.3,4.3 0 0 0 246.8,1145.95 H254.6" stroke-width="1.4"/>
<path d="M254.6,1139.45 H247.2 A2.2,2.2 0 0 0 247.2,1143.85 H254.6" stroke-width="1.3"/>
<path d="M254.6,1155.05 H246.3 A6.3,6.3 0 0 0 246.3,1167.65 H254.6" stroke-width="1.9"/>
<path d="M254.6,1157.05 H246.8 A4.3,4.3 0 0 0 246.8,1165.65 H254.6" stroke-width="1.4"/>
<path d="M254.6,1159.15 H247.2 A2.2,2.2 0 0 0 247.2,1163.55 H254.6" stroke-width="1.3"/>
<path d="M254.6,1174.75 H246.3 A6.3,6.3 0 0 0 246.3,1187.35 H254.6" stroke-width="1.9"/>
<path d="M254.6,1176.75 H246.8 A4.3,4.3 0 0 0 246.8,1185.35 H254.6" stroke-width="1.4"/>
<path d="M254.6,1178.85 H247.2 A2.2,2.2 0 0 0 247.2,1183.25 H254.6" stroke-width="1.3"/>
<path d="M254.6,1194.45 H246.3 A6.3,6.3 0 0 0 246.3,1207.05 H254.6" stroke-width="1.9"/>
<path d="M254.6,1196.45 H246.8 A4.3,4.3 0 0 0 246.8,1205.05 H254.6" stroke-width="1.4"/>
<path d="M254.6,1198.55 H247.2 A2.2,2.2 0 0 0 247.2,1202.95 H254.6" stroke-width="1.3"/>
<path d="M254.6,1214.15 H246.3 A6.3,6.3 0 0 0 246.3,1226.75 H254.6" stroke-width="1.9"/>
<path d="M254.6,1216.15 H246.8 A4.3,4.3 0 0 0 246.8,1224.75 H254.6" stroke-width="1.4"/>
<path d="M254.6,1218.25 H247.2 A2.2,2.2 0 0 0 247.2,1222.65 H254.6" stroke-width="1.3"/>
<path d="M254.6,1233.85 H246.3 A6.3,6.3 0 0 0 246.3,1246.45 H254.6" stroke-width="1.9"/>
<path d="M254.6,1235.85 H246.8 A4.3,4.3 0 0 0 246.8,1244.45 H254.6" stroke-width="1.4"/>
<path d="M254.6,1237.95 H247.2 A2.2,2.2 0 0 0 247.2,1242.35 H254.6" stroke-width="1.3"/>
<path d="M254.6,1253.55 H246.3 A6.3,6.3 0 0 0 246.3,1266.15 H254.6" stroke-width="1.9"/>
<path d="M254.6,1255.55 H246.8 A4.3,4.3 0 0 0 246.8,1264.15 H254.6" stroke-width="1.4"/>
<path d="M254.6,1257.65 H247.2 A2.2,2.2 0 0 0 247.2,1262.05 H254.6" stroke-width="1.3"/>
<path d="M254.6,1273.25 H246.3 A6.3,6.3 0 0 0 246.3,1285.85 H254.6" stroke-width="1.9"/>
<path d="M254.6,1275.25 H246.8 A4.3,4.3 0 0 0 246.8,1283.85 H254.6" stroke-width="1.4"/>
<path d="M254.6,1277.35 H247.2 A2.2,2.2 0 0 0 247.2,1281.75 H254.6" stroke-width="1.3"/>
<path d="M254.6,1292.95 H246.3 A6.3,6.3 0 0 0 246.3,1305.55 H254.6" stroke-width="1.9"/>
<path d="M254.6,1294.95 H246.8 A4.3,4.3 0 0 0 246.8,1303.55 H254.6" stroke-width="1.4"/>
<path d="M254.6,1297.05 H247.2 A2.2,2.2 0 0 0 247.2,1301.45 H254.6" stroke-width="1.3"/>
<path d="M254.6,1312.65 H246.3 A6.3,6.3 0 0 0 246.3,1325.25 H254.6" stroke-width="1.9"/>
<path d="M254.6,1314.65 H246.8 A4.3,4.3 0 0 0 246.8,1323.25 H254.6" stroke-width="1.4"/>
<path d="M254.6,1316.75 H247.2 A2.2,2.2 0 0 0 247.2,1321.15 H254.6" stroke-width="1.3"/>
<path d="M254.6,1332.35 H246.3 A6.3,6.3 0 0 0 246.3,1344.95 H254.6" stroke-width="1.9"/>
<path d="M254.6,1334.35 H246.8 A4.3,4.3 0 0 0 246.8,1342.95 H254.6" stroke-width="1.4"/>
<path d="M254.6,1336.45 H247.2 A2.2,2.2 0 0 0 247.2,1340.85 H254.6" stroke-width="1.3"/>
<path d="M254.6,1352.05 H246.3 A6.3,6.3 0 0 0 246.3,1364.65 H254.6" stroke-width="1.9"/>
<path d="M254.6,1354.05 H246.8 A4.3,4.3 0 0 0 246.8,1362.65 H254.6" stroke-width="1.4"/>
<path d="M254.6,1356.15 H247.2 A2.2,2.2 0 0 0 247.2,1360.55 H254.6" stroke-width="1.3"/></g>
<use href="#v4h" transform="translate(665 0) scale(-1 1)"/>
<path d="M255.3,1147.8 L409.7,1147.8" stroke-width="1.35"/>
<path d="M255.3,1254 L409.7,1254" stroke-width="1.35"/>
<path d="M257.4,1147.8 L257.4,1254" stroke-width="1.2"/>
<path d="M407.6,1147.8 L407.6,1254" stroke-width="1.2"/>
<path d="M199.4,993.6 L199.4,1020"/>
<path d="M465.6,993.6 L465.6,1020"/>
<path d="M199.4,995 L300.5,995"/>
<path d="M356.5,995 L465.6,995"/>
<path d="M199.8,995 L214.8,992.4 L214.8,997.6 Z" fill="#0c0c0c" stroke="#0c0c0c" stroke-width="0.5"/>
<path d="M465.2,995 L450.2,997.6 L450.2,992.4 Z" fill="#0c0c0c" stroke="#0c0c0c" stroke-width="0.5"/>
<text x="301" y="1002.6" font-family="Liberation Sans, sans-serif" font-size="19.4" text-anchor="start" fill="#0c0c0c" stroke="none" textLength="54.5" lengthAdjust="spacingAndGlyphs">36,20</text>
<circle cx="326.2" cy="966.8" r="11" stroke-width="1.5"/><text transform="translate(326.2 966.8) rotate(0) scale(0.52 1)" x="0" y="8.48" font-family="Liberation Serif, serif" font-weight="bold" font-size="25.3" text-anchor="middle" fill="#0c0c0c" stroke="#0c0c0c" stroke-width="0.8">M</text>
<path d="M151.2,1020 L199.4,1020"/>
<path d="M151.2,1381.2 L199.4,1381.2"/>
<path d="M152.4,1020 L152.4,1176"/>
<path d="M152.4,1231.5 L152.4,1381.2"/>
<path d="M152.4,1020.4 L155,1035.4 L149.8,1035.4 Z" fill="#0c0c0c" stroke="#0c0c0c" stroke-width="0.5"/>
<path d="M152.4,1380.8 L149.8,1365.8 L155,1365.8 Z" fill="#0c0c0c" stroke="#0c0c0c" stroke-width="0.5"/>
<text x="158.6" y="1231" font-family="Liberation Sans, sans-serif" font-size="19.4" text-anchor="start" fill="#0c0c0c" stroke="none" textLength="54.5" lengthAdjust="spacingAndGlyphs" transform="rotate(-90 158.6 1231)">46,00</text>
<circle cx="128.8" cy="1205.4" r="11.2" stroke-width="1.5"/><text transform="translate(128.8 1205.4) rotate(0) scale(0.66 1)" x="0" y="8.63" font-family="Liberation Serif, serif" font-weight="bold" font-size="25.76" text-anchor="middle" fill="#0c0c0c" stroke="#0c0c0c" stroke-width="0.8">N</text>
<path d="M238.7,1368.2 L238.7,1397.2"/>
<path d="M426.3,1368.2 L426.3,1397.2"/>
<path d="M238.7,1395.8 L303.5,1395.8"/>
<path d="M359.5,1395.8 L426.3,1395.8"/>
<path d="M239.1,1395.8 L254.1,1393.2 L254.1,1398.4 Z" fill="#0c0c0c" stroke="#0c0c0c" stroke-width="0.5"/>
<path d="M425.9,1395.8 L410.9,1398.4 L410.9,1393.2 Z" fill="#0c0c0c" stroke="#0c0c0c" stroke-width="0.5"/>
<text x="304" y="1403.4" font-family="Liberation Sans, sans-serif" font-size="19.4" text-anchor="start" fill="#0c0c0c" stroke="none" textLength="54.5" lengthAdjust="spacingAndGlyphs">25,40</text>
<circle cx="331.6" cy="1367" r="10.8" stroke-width="1.5"/><text transform="translate(331.6 1367) rotate(0) scale(0.66 1)" x="0" y="8.32" font-family="Liberation Serif, serif" font-weight="bold" font-size="24.84" text-anchor="middle" fill="#0c0c0c" stroke="#0c0c0c" stroke-width="0.8">A</text>
<path d="M429.4,1348.5 L498.8,1348.5"/>
<path d="M429.4,1368.2 L498.8,1368.2"/>
<path d="M497.4,1315.6 L497.4,1348.5"/>
<path d="M497.4,1348.1 L494.8,1333.1 L500,1333.1 Z" fill="#0c0c0c" stroke="#0c0c0c" stroke-width="0.5"/>
<path d="M497.4,1368.2 L497.4,1399.6"/>
<path d="M497.4,1368.6 L500,1383.6 L494.8,1383.6 Z" fill="#0c0c0c" stroke="#0c0c0c" stroke-width="0.5"/>
<text x="503.4" y="1315.4" font-family="Liberation Sans, sans-serif" font-size="19.4" text-anchor="start" fill="#0c0c0c" stroke="none" textLength="43" lengthAdjust="spacingAndGlyphs" transform="rotate(-90 503.4 1315.4)">2,50</text>
<circle cx="519.6" cy="1302.4" r="10.9" stroke-width="1.5"/><text transform="translate(519.6 1302.4) rotate(0) scale(0.66 1)" x="0" y="8.4" font-family="Liberation Serif, serif" font-weight="bold" font-size="25.07" text-anchor="middle" fill="#0c0c0c" stroke="#0c0c0c" stroke-width="0.8">B</text>
</g>
<g id="iso1">
<path d="M995,398.33 L1007.5,377.5 L1085,404.17 L1056.67,419.17Z" fill="#ffffff"/>
<path d="M1056.67,419.17 L1085,404.17 L1086.67,405.83 L1086.67,475 L1080.83,478.33 L1080.83,452.5 L1057.5,462.83 L1057.5,420Z" fill="#ffffff"/>
<path d="M1055,420 L1055,463.67" stroke-width="1.1"/>
<path d="M1080.83,478.33 L1060.33,471.67"/>
<path d="M1080.83,452.5 L1080.83,478.33"/>
<path d="M1053.2,465 L1053.2,511.57"/>
<path d="M1058.6,466 L1058.6,511.57"/>
<path d="M1053.2,511.57 Q1055.9,514.87 1058.6,511.57"/>
<path d="M1040.6,460.4 L1040.6,507.1"/>
<path d="M1046,461.4 L1046,507.1"/>
<path d="M1040.6,507.1 Q1043.3,510.4 1046,507.1"/>
<path d="M1036.5,455.6 V428.4 A5.2,6.5 0 0 1 1046.9,428.4 V459.2" stroke-width="2.1"/>
<path d="M1038.5,455.4 V429.1 A3.2,4.6 0 0 1 1044.9,429.1 V456.9" stroke-width="1.3"/>
<path d="M1038.9,435.9 L1044.3,451.9" stroke-width="1.1"/>
<path d="M1037.3,429.9 L1037.3,454.4" stroke-width="1.6"/>
<path d="M1040.9,426.9 L1044.7,439.9" stroke-width="1.1"/>
<path d="M1038.7,445.9 L1041.9,455.9" stroke-width="1.1"/>
<path d="M1036.5,455.6 Q1037.1,461.6 1041.7,462 Q1046.5,462.6 1046.9,459.2"/>
<path d="M1028,455.93 L1028,502.63"/>
<path d="M1033.4,456.93 L1033.4,502.63"/>
<path d="M1028,502.63 Q1030.7,505.93 1033.4,502.63"/>
<path d="M1023.9,451.13 V423.93 A5.2,6.5 0 0 1 1034.3,423.93 V454.73" stroke-width="2.1"/>
<path d="M1025.9,450.93 V424.63 A3.2,4.6 0 0 1 1032.3,424.63 V452.43" stroke-width="1.3"/>
<path d="M1026.3,431.43 L1031.7,447.43" stroke-width="1.1"/>
<path d="M1024.7,425.43 L1024.7,449.93" stroke-width="1.6"/>
<path d="M1028.3,422.43 L1032.1,435.43" stroke-width="1.1"/>
<path d="M1026.1,441.43 L1029.3,451.43" stroke-width="1.1"/>
<path d="M1023.9,451.13 Q1024.5,457.13 1029.1,457.53 Q1033.9,458.13 1034.3,454.73"/>
<path d="M1034.3,454.73 L1036.5,455.6"/>
<path d="M1015.4,451.46 L1015.4,498.16"/>
<path d="M1020.8,452.46 L1020.8,498.16"/>
<path d="M1015.4,498.16 Q1018.1,501.46 1020.8,498.16"/>
<path d="M1011.3,446.66 V419.46 A5.2,6.5 0 0 1 1021.7,419.46 V450.26" stroke-width="2.1"/>
<path d="M1013.3,446.46 V420.16 A3.2,4.6 0 0 1 1019.7,420.16 V447.96" stroke-width="1.3"/>
<path d="M1013.7,426.96 L1019.1,442.96" stroke-width="1.1"/>
<path d="M1012.1,420.96 L1012.1,445.46" stroke-width="1.6"/>
<path d="M1015.7,417.96 L1019.5,430.96" stroke-width="1.1"/>
<path d="M1013.5,436.96 L1016.7,446.96" stroke-width="1.1"/>
<path d="M1011.3,446.66 Q1011.9,452.66 1016.5,453.06 Q1021.3,453.66 1021.7,450.26"/>
<path d="M1021.7,450.26 L1023.9,451.13"/>
<path d="M1002.8,446.99 L1002.8,493.69"/>
<path d="M1008.2,447.99 L1008.2,493.69"/>
<path d="M1002.8,493.69 Q1005.5,496.99 1008.2,493.69"/>
<path d="M998.7,442.19 V414.99 A5.2,6.5 0 0 1 1009.1,414.99 V445.79" stroke-width="2.1"/>
<path d="M1000.7,441.99 V415.69 A3.2,4.6 0 0 1 1007.1,415.69 V443.49" stroke-width="1.3"/>
<path d="M1001.1,422.49 L1006.5,438.49" stroke-width="1.1"/>
<path d="M999.5,416.49 L999.5,440.99" stroke-width="1.6"/>
<path d="M1003.1,413.49 L1006.9,426.49" stroke-width="1.1"/>
<path d="M1000.9,432.49 L1004.1,442.49" stroke-width="1.1"/>
<path d="M998.7,442.19 Q999.3,448.19 1003.9,448.59 Q1008.7,449.19 1009.1,445.79"/>
<path d="M1009.1,445.79 L1011.3,446.66"/>
<path d="M990.2,442.52 L990.2,489.22"/>
<path d="M995.6,443.52 L995.6,489.22"/>
<path d="M990.2,489.22 Q992.9,492.52 995.6,489.22"/>
<path d="M986.1,437.72 V410.52 A5.2,6.5 0 0 1 996.5,410.52 V441.32" stroke-width="2.1"/>
<path d="M988.1,437.52 V411.22 A3.2,4.6 0 0 1 994.5,411.22 V439.02" stroke-width="1.3"/>
<path d="M988.5,418.02 L993.9,434.02" stroke-width="1.1"/>
<path d="M986.9,412.02 L986.9,436.52" stroke-width="1.6"/>
<path d="M990.5,409.02 L994.3,422.02" stroke-width="1.1"/>
<path d="M988.3,428.02 L991.5,438.02" stroke-width="1.1"/>
<path d="M986.1,437.72 Q986.7,443.72 991.3,444.12 Q996.1,444.72 996.5,441.32"/>
<path d="M996.5,441.32 L998.7,442.19"/>
<path d="M977.6,438.05 L977.6,484.75"/>
<path d="M983,439.05 L983,484.75"/>
<path d="M977.6,484.75 Q980.3,488.05 983,484.75"/>
<path d="M973.5,433.25 V406.05 A5.2,6.5 0 0 1 983.9,406.05 V436.85" stroke-width="2.1"/>
<path d="M975.5,433.05 V406.75 A3.2,4.6 0 0 1 981.9,406.75 V434.55" stroke-width="1.3"/>
<path d="M975.9,413.55 L981.3,429.55" stroke-width="1.1"/>
<path d="M974.3,407.55 L974.3,432.05" stroke-width="1.6"/>
<path d="M977.9,404.55 L981.7,417.55" stroke-width="1.1"/>
<path d="M975.7,423.55 L978.9,433.55" stroke-width="1.1"/>
<path d="M973.5,433.25 Q974.1,439.25 978.7,439.65 Q983.5,440.25 983.9,436.85"/>
<path d="M983.9,436.85 L986.1,437.72"/>
<path d="M965,433.58 L965,480.28"/>
<path d="M970.4,434.58 L970.4,480.28"/>
<path d="M965,480.28 Q967.7,483.58 970.4,480.28"/>
<path d="M960.9,428.78 V401.58 A5.2,6.5 0 0 1 971.3,401.58 V432.38" stroke-width="2.1"/>
<path d="M962.9,428.58 V402.28 A3.2,4.6 0 0 1 969.3,402.28 V430.08" stroke-width="1.3"/>
<path d="M963.3,409.08 L968.7,425.08" stroke-width="1.1"/>
<path d="M961.7,403.08 L961.7,427.58" stroke-width="1.6"/>
<path d="M965.3,400.08 L969.1,413.08" stroke-width="1.1"/>
<path d="M963.1,419.08 L966.3,429.08" stroke-width="1.1"/>
<path d="M960.9,428.78 Q961.5,434.78 966.1,435.18 Q970.9,435.78 971.3,432.38"/>
<path d="M971.3,432.38 L973.5,433.25"/>
<path d="M952.4,429.11 L952.4,475.81"/>
<path d="M957.8,430.11 L957.8,475.81"/>
<path d="M952.4,475.81 Q955.1,479.11 957.8,475.81"/>
<path d="M948.3,424.31 V397.11 A5.2,6.5 0 0 1 958.7,397.11 V427.91" stroke-width="2.1"/>
<path d="M950.3,424.11 V397.81 A3.2,4.6 0 0 1 956.7,397.81 V425.61" stroke-width="1.3"/>
<path d="M950.7,404.61 L956.1,420.61" stroke-width="1.1"/>
<path d="M949.1,398.61 L949.1,423.11" stroke-width="1.6"/>
<path d="M952.7,395.61 L956.5,408.61" stroke-width="1.1"/>
<path d="M950.5,414.61 L953.7,424.61" stroke-width="1.1"/>
<path d="M948.3,424.31 Q948.9,430.31 953.5,430.71 Q958.3,431.31 958.7,427.91"/>
<path d="M958.7,427.91 L960.9,428.78"/>
<path d="M939.8,424.64 L939.8,471.34"/>
<path d="M945.2,425.64 L945.2,471.34"/>
<path d="M939.8,471.34 Q942.5,474.64 945.2,471.34"/>
<path d="M935.7,419.84 V392.64 A5.2,6.5 0 0 1 946.1,392.64 V423.44" stroke-width="2.1"/>
<path d="M937.7,419.64 V393.34 A3.2,4.6 0 0 1 944.1,393.34 V421.14" stroke-width="1.3"/>
<path d="M938.1,400.14 L943.5,416.14" stroke-width="1.1"/>
<path d="M936.5,394.14 L936.5,418.64" stroke-width="1.6"/>
<path d="M940.1,391.14 L943.9,404.14" stroke-width="1.1"/>
<path d="M937.9,410.14 L941.1,420.14" stroke-width="1.1"/>
<path d="M935.7,419.84 Q936.3,425.84 940.9,426.24 Q945.7,426.84 946.1,423.44"/>
<path d="M946.1,423.44 L948.3,424.31"/>
<path d="M927.2,420.17 L927.2,466.87"/>
<path d="M932.6,421.17 L932.6,466.87"/>
<path d="M927.2,466.87 Q929.9,470.17 932.6,466.87"/>
<path d="M923.1,415.37 V388.17 A5.2,6.5 0 0 1 933.5,388.17 V418.97" stroke-width="2.1"/>
<path d="M925.1,415.17 V388.87 A3.2,4.6 0 0 1 931.5,388.87 V416.67" stroke-width="1.3"/>
<path d="M925.5,395.67 L930.9,411.67" stroke-width="1.1"/>
<path d="M923.9,389.67 L923.9,414.17" stroke-width="1.6"/>
<path d="M927.5,386.67 L931.3,399.67" stroke-width="1.1"/>
<path d="M925.3,405.67 L928.5,415.67" stroke-width="1.1"/>
<path d="M923.1,415.37 Q923.7,421.37 928.3,421.77 Q933.1,422.37 933.5,418.97"/>
<path d="M933.5,418.97 L935.7,419.84"/>
<path d="M914.6,415.7 L914.6,462.4"/>
<path d="M920,416.7 L920,462.4"/>
<path d="M914.6,462.4 Q917.3,465.7 920,462.4"/>
<path d="M910.5,410.9 V383.7 A5.2,6.5 0 0 1 920.9,383.7 V414.5" stroke-width="2.1"/>
<path d="M912.5,410.7 V384.4 A3.2,4.6 0 0 1 918.9,384.4 V412.2" stroke-width="1.3"/>
<path d="M912.9,391.2 L918.3,407.2" stroke-width="1.1"/>
<path d="M911.3,385.2 L911.3,409.7" stroke-width="1.6"/>
<path d="M914.9,382.2 L918.7,395.2" stroke-width="1.1"/>
<path d="M912.7,401.2 L915.9,411.2" stroke-width="1.1"/>
<path d="M910.5,410.9 Q911.1,416.9 915.7,417.3 Q920.5,417.9 920.9,414.5"/>
<path d="M920.9,414.5 L923.1,415.37"/>
<path d="M902,411.23 L902,457.93"/>
<path d="M907.4,412.23 L907.4,457.93"/>
<path d="M902,457.93 Q904.7,461.23 907.4,457.93"/>
<path d="M897.9,406.43 V379.23 A5.2,6.5 0 0 1 908.3,379.23 V410.03" stroke-width="2.1"/>
<path d="M899.9,406.23 V379.93 A3.2,4.6 0 0 1 906.3,379.93 V407.73" stroke-width="1.3"/>
<path d="M900.3,386.73 L905.7,402.73" stroke-width="1.1"/>
<path d="M898.7,380.73 L898.7,405.23" stroke-width="1.6"/>
<path d="M902.3,377.73 L906.1,390.73" stroke-width="1.1"/>
<path d="M900.1,396.73 L903.3,406.73" stroke-width="1.1"/>
<path d="M897.9,406.43 Q898.5,412.43 903.1,412.83 Q907.9,413.43 908.3,410.03"/>
<path d="M908.3,410.03 L910.5,410.9"/>
<path d="M1046.9,459.2 L1056.6,462.4"/>
<path d="M704.2,398.7 L735.8,382.5 L962.7,464.4 L932.6,480Z" fill="#ffffff"/>
<path d="M933.4,481.5 L963.5,465.4 L963.5,508.6 L940,519.4 L940,545 L933.4,546.6Z" fill="#ffffff"/>
<path d="M703,401.2 L703,466.6 L705.2,469.3 L729.8,477.8 L729.8,451.7 L903.7,513.4 L905,536.6 L907.6,539.4 L930,546.8 L933.4,546.6 L933.4,481.5 L930.4,479.6 L704.2,398.7Z" fill="#ffffff"/>
<path d="M705.8,403 L930.2,483.6 L930.2,546.6" stroke-width="1.2"/>
<path d="M704.6,402.5 L704.6,467.8" stroke-width="1"/>
<path d="M729.8,477.8 Q736,479 739.2,474.4 V455.1"/>
<path d="M878,318.33 L878.08,317.44 L878.16,316.28 L878.26,314.89 L878.38,313.33 L878.52,311.68 L878.7,309.97 L878.91,308.28 L879.17,306.67 L879.46,305.08 L879.79,303.45 L880.15,301.79 L880.54,300.1 L880.97,298.41 L881.44,296.71 L881.95,295.01 L882.5,293.33 L883.08,291.66 L883.68,289.98 L884.32,288.3 L885,286.61 L885.73,284.94 L886.52,283.27 L887.39,281.63 L888.33,280 L889.37,278.36 L890.5,276.7 L891.7,275.03 L892.97,273.39 L894.28,271.78 L895.62,270.25 L896.98,268.82 L898.33,267.5 L899.73,266.29 L901.19,265.18 L902.7,264.14 L904.22,263.18 L905.73,262.29 L907.22,261.46 L908.65,260.7 L910,260 L911.33,259.36 L912.68,258.8 L914.02,258.3 L915.31,257.86 L916.51,257.49 L917.58,257.17 L918.48,256.9 L919.17,256.67 L923,256 L935.33,256.33 L937,257.67 L950,278.67 L950,270.83 L960,266.67 L965.83,270.83 L966.67,271.78 L967.8,273.02 L969.14,274.5 L970.63,276.15 L972.19,277.91 L973.76,279.74 L975.28,281.57 L976.67,283.33 L977.96,285.05 L979.23,286.79 L980.48,288.56 L981.72,290.36 L982.95,292.23 L984.19,294.17 L985.42,296.2 L986.67,298.33 L987.94,300.61 L989.24,303.02 L990.56,305.54 L991.87,308.12 L993.16,310.74 L994.4,313.33 L995.58,315.88 L996.67,318.33 L997.68,320.69 L998.65,322.99 L999.56,325.26 L1000.42,327.5 L1001.22,329.74 L1001.98,332.01 L1002.68,334.31 L1003.33,336.67 L1003.93,339.11 L1004.49,341.63 L1004.99,344.19 L1005.44,346.77 L1005.83,349.34 L1006.17,351.86 L1006.45,354.31 L1006.67,356.67 L1006.82,358.91 L1006.9,361.07 L1006.93,363.16 L1006.9,365.21 L1006.81,367.23 L1006.69,369.24 L1006.53,371.27 L1006.33,373.33 L1006.09,375.49 L1005.78,377.73 L1005.42,380.02 L1005.02,382.29 L1004.6,384.48 L1004.17,386.54 L1003.74,388.4 L1003.33,390 L1002.91,391.36 L1002.45,392.53 L1001.96,393.53 L1001.48,394.37 L1001.02,395.09 L1000.61,395.7 L1000.26,396.22 L1000,396.67 L994.67,398 L958.33,388.33Z" fill="#ffffff" stroke="none"/>
<path d="M986.67,294.17 C987.78,294.31 990.28,293.89 993.33,295 C996.39,296.11 1002.22,299.17 1005,300.83 C1007.78,302.5 1008.89,303.47 1010,305 C1011.11,306.53 1011.53,308.72 1011.67,310 C1011.81,311.28 1010.97,312.22 1010.83,312.67"/>
<path d="M1010.83,312.67 L1000,318.33 L999.33,317"/>
<path d="M995.83,310.83 L1007.5,305.83 L1008.83,308.67 L998,313.67" stroke-width="1.1"/>
<path d="M1008.83,308.67 L1010.83,312.67" stroke-width="1.1"/>
<path d="M1007.5,305.83 L1010,305" stroke-width="1.1"/>
<path d="M878,318.33 C878.19,316.39 878.42,310.83 879.17,306.67 C879.92,302.5 880.97,297.78 882.5,293.33 C884.03,288.89 885.69,284.31 888.33,280 C890.97,275.69 894.72,270.83 898.33,267.5 C901.94,264.17 906.53,261.81 910,260 C913.47,258.19 917.64,257.22 919.17,256.67"/>
<path d="M919.17,256.67 L923,256 L935.33,256.33 L937,257.67 L950,278.67"/>
<path d="M923,256.33 L929.17,262 L935,256.67"/>
<path d="M929.17,262 L929.17,289.17 L933.33,292 L949.67,284.33"/>
<path d="M929.17,289.17 L948.67,280"/>
<path d="M950,297.5 L950,270.83 L960,266.67 L965.83,270.83"/>
<path d="M950,271.33 L956.33,273.83 L960,272.5" stroke-width="1.1"/>
<path d="M965.83,270.83 C967.64,272.92 973.19,278.75 976.67,283.33 C980.14,287.92 983.33,292.5 986.67,298.33 C990,304.17 993.89,311.94 996.67,318.33 C999.44,324.72 1001.67,330.28 1003.33,336.67 C1005,343.06 1006.17,350.56 1006.67,356.67 C1007.17,362.78 1006.89,367.78 1006.33,373.33 C1005.78,378.89 1004.39,386.11 1003.33,390 C1002.28,393.89 1000.56,395.56 1000,396.67"/>
<path d="M960,272.5 C962.22,275.14 969.44,282.92 973.33,288.33 C977.22,293.75 980.28,299.17 983.33,305 C986.39,310.83 989.17,316.94 991.67,323.33 C994.17,329.72 996.72,336.67 998.33,343.33 C999.94,350 1000.92,356.94 1001.33,363.33 C1001.75,369.72 1001.61,376.11 1000.83,381.67 C1000.06,387.22 997.69,393.94 996.67,396.67 C995.64,399.39 995,397.78 994.67,398"/>
<path d="M1000,396.67 L1003,395 L1001.67,392.5"/>
<path d="M994.67,398 L1000,396.67"/>
<path d="M878,318.33 L917.5,298.33 L918.19,298.02 L919.09,297.56 L920.16,297.01 L921.35,296.43 L922.64,295.85 L923.98,295.33 L925.34,294.92 L926.67,294.67 L928.01,294.53 L929.41,294.43 L930.86,294.4 L932.34,294.45 L933.85,294.6 L935.36,294.87 L936.86,295.27 L938.33,295.83 L939.8,296.57 L941.29,297.46 L942.78,298.5 L944.27,299.66 L945.75,300.91 L947.2,302.23 L948.62,303.6 L950,305 L951.34,306.46 L952.66,308 L953.95,309.62 L955.21,311.3 L956.45,313.03 L957.66,314.79 L958.84,316.56 L960,318.33 L961.14,320.13 L962.28,321.97 L963.39,323.84 L964.48,325.73 L965.53,327.64 L966.52,329.54 L967.46,331.45 L968.33,333.33 L969.15,335.21 L969.92,337.08 L970.64,338.96 L971.3,340.83 L971.91,342.71 L972.45,344.58 L972.93,346.46 L973.33,348.33 L973.67,350.22 L973.95,352.12 L974.17,354.03 L974.32,355.94 L974.4,357.83 L974.41,359.7 L974.33,361.54 L974.17,363.33 L973.9,365.11 L973.54,366.9 L973.08,368.68 L972.55,370.42 L971.97,372.11 L971.33,373.72 L970.67,375.25 L970,376.67 L969.27,377.98 L968.47,379.22 L967.61,380.38 L966.72,381.46 L965.82,382.46 L964.94,383.39 L964.1,384.23 L963.33,385 L962.59,385.68 L961.85,386.26 L961.12,386.76 L960.42,387.19 L959.77,387.55 L959.19,387.85 L958.71,388.11 L958.33,388.33 L915,407.5Z" fill="#ffffff" stroke="none"/>
<path d="M878,318.33 L917.5,298.33"/>
<path d="M917.5,298.33 C919.03,297.72 923.19,295.08 926.67,294.67 C930.14,294.25 934.44,294.11 938.33,295.83 C942.22,297.56 946.39,301.25 950,305 C953.61,308.75 956.94,313.61 960,318.33 C963.06,323.06 966.11,328.33 968.33,333.33 C970.56,338.33 972.36,343.33 973.33,348.33 C974.31,353.33 974.72,358.61 974.17,363.33 C973.61,368.06 971.81,373.06 970,376.67 C968.19,380.28 965.28,383.06 963.33,385 C961.39,386.94 959.17,387.78 958.33,388.33"/>
<path d="M918.67,300.33 C920,299.75 923.53,297.22 926.67,296.83 C929.81,296.44 933.86,296.36 937.5,298 C941.14,299.64 945.06,303.08 948.5,306.67 C951.94,310.25 955.19,314.89 958.17,319.5 C961.14,324.11 964.17,329.53 966.33,334.33 C968.5,339.14 970.22,343.61 971.17,348.33 C972.11,353.06 972.5,358.19 972,362.67 C971.5,367.14 969.83,371.78 968.17,375.17 C966.5,378.56 963.75,381.14 962,383 C960.25,384.86 958.39,385.78 957.67,386.33" stroke-width="1.1"/>
<path d="M958.33,388.33 L915,407.5"/>
<path d="M787.5,407.5 L787.49,406.94 L787.5,406.21 L787.5,405.35 L787.5,404.38 L787.48,403.33 L787.44,402.23 L787.37,401.11 L787.25,400 L787.08,398.87 L786.87,397.68 L786.62,396.43 L786.34,395.16 L786.06,393.86 L785.77,392.56 L785.5,391.27 L785.25,390 L785.01,388.77 L784.78,387.56 L784.54,386.36 L784.31,385.16 L784.09,383.93 L783.88,382.68 L783.68,381.37 L783.5,380 L783.33,378.56 L783.17,377.05 L783.03,375.5 L782.89,373.91 L782.77,372.3 L782.66,370.68 L782.57,369.08 L782.5,367.5 L782.44,365.94 L782.4,364.38 L782.37,362.81 L782.36,361.25 L782.36,359.69 L782.39,358.12 L782.43,356.56 L782.5,355 L782.6,353.35 L782.75,351.58 L782.93,349.76 L783.12,347.97 L783.32,346.27 L783.5,344.75 L783.65,343.46 L783.75,342.5 L777.75,336.5 L781.88,330.62 L794.38,324.38 L795,323.75 L795.56,323.01 L796.29,322.02 L797.15,320.84 L798.12,319.53 L799.17,318.17 L800.27,316.81 L801.39,315.52 L802.5,314.38 L803.61,313.33 L804.77,312.29 L805.96,311.29 L807.19,310.31 L808.46,309.38 L809.77,308.49 L811.11,307.65 L812.5,306.88 L814.03,306.15 L815.74,305.46 L817.55,304.81 L819.38,304.22 L821.12,303.68 L822.7,303.21 L824.02,302.82 L825,302.5 L826.88,302 L838.75,306.5 L851.88,318.12 L859.38,313.75 L873.75,319.5 L873.75,319.4 L874.43,320.01 L875.35,320.81 L876.45,321.76 L877.66,322.82 L878.93,323.97 L880.2,325.15 L881.41,326.34 L882.5,327.5 L883.5,328.64 L884.46,329.81 L885.4,331 L886.33,332.23 L887.24,333.48 L888.15,334.78 L889.07,336.12 L890,337.5 L890.95,338.93 L891.91,340.39 L892.88,341.89 L893.84,343.44 L894.8,345.02 L895.73,346.64 L896.63,348.3 L897.5,350 L898.33,351.76 L899.14,353.57 L899.93,355.44 L900.69,357.34 L901.43,359.27 L902.14,361.19 L902.83,363.11 L903.5,365 L904.15,366.86 L904.77,368.7 L905.37,370.54 L905.95,372.38 L906.5,374.23 L907.03,376.11 L907.53,378.03 L908,380 L908.45,382.05 L908.87,384.18 L909.27,386.36 L909.64,388.56 L909.98,390.76 L910.29,392.91 L910.56,395 L910.8,397 L911,398.88 L911.17,400.66 L911.31,402.38 L911.42,404.06 L911.49,405.74 L911.53,407.43 L911.53,409.17 L911.5,411 L911.43,412.94 L911.34,414.98 L911.21,417.07 L911.04,419.19 L910.84,421.28 L910.6,423.3 L910.32,425.23 L910,427 L909.63,428.65 L909.2,430.21 L908.73,431.69 L908.22,433.09 L907.68,434.42 L907.13,435.68 L906.56,436.87 L906,438 L905.39,439.07 L904.7,440.09 L903.98,441.05 L903.25,441.94 L902.55,442.74 L901.92,443.44 L901.39,444.03 L901,444.5 L898.1,445.8Z" fill="#ffffff" stroke="none"/>
<path d="M783.75,342.5 C783.54,344.58 782.71,350.83 782.5,355 C782.29,359.17 782.33,363.33 782.5,367.5 C782.67,371.67 783.04,376.25 783.5,380 C783.96,383.75 784.62,386.67 785.25,390 C785.88,393.33 786.88,397.08 787.25,400 C787.62,402.92 787.46,406.25 787.5,407.5"/>
<path d="M787.5,407.5 L898.1,445.8"/>
<path d="M787.5,403.12 L833.12,419"/>
<path d="M857.5,426.3 L901,442.8"/>
<path d="M820,358.5 C819.54,360 817.83,364.33 817.25,367.5 C816.67,370.67 816.35,373.96 816.5,377.5 C816.65,381.04 817.23,385 818.12,388.75 C819.02,392.5 820.31,396.46 821.88,400 C823.44,403.54 825.31,406.88 827.5,410 C829.69,413.12 832.5,416.35 835,418.75 C837.5,421.15 839.79,423.12 842.5,424.38 C845.21,425.62 848.33,426.35 851.25,426.25 C854.17,426.15 857.29,425.42 860,423.75 C862.71,422.08 865.52,419.17 867.5,416.25 C869.48,413.33 870.88,409.79 871.88,406.25 C872.88,402.71 873.4,398.75 873.5,395 C873.6,391.25 873.19,387.08 872.5,383.75 C871.81,380.42 870.42,377.08 869.38,375 C868.33,372.92 866.77,371.88 866.25,371.25"/>
<path d="M794.38,324.38 L782.5,330.25 Q777.25,333.12 778,337 Q779.25,340.25 786,341.25"/>
<path d="M782.5,332.25 Q783,336.5 787.5,338.25 L811.25,345.88" stroke-width="1.1"/>
<path d="M786,341.25 L866.88,368.12 L870,369.5 L884.38,370.12 L887.75,371.25 L897.75,366.5"/>
<path d="M784.75,343.25 L870.62,372.75 L874,375 L885.5,375 L888.75,373.25 L898.25,368.5"/>
<path d="M778.25,338.12 L780,341.25 L784.75,343.25" stroke-width="1.1"/>
<path d="M841.88,356.25 L866.25,365.38 L868.75,364.75 L883.12,365 L887,366.25 L897,362.5"/>
<path d="M887.75,371.25 L888.75,373.25" stroke-width="1.1"/>
<path d="M887,366.25 L887.75,371.25" stroke-width="1.1"/>
<path d="M795,323.75 C796.25,322.19 799.58,317.19 802.5,314.38 C805.42,311.56 808.75,308.85 812.5,306.88 C816.25,304.9 822.92,303.23 825,302.5"/>
<path d="M825,302.5 L826.88,302 L838.75,306.5 L831.75,309.75 L827.75,307.75 L825.88,305.75 L825,302.5"/>
<path d="M826.88,302 L827.75,304.75 L831.75,306.75 L838.75,306.5" stroke-width="1.1"/>
<path d="M839.12,306.75 L839.5,331.25 L845,329.38"/>
<path d="M825.62,306.25 L810.62,345.62 L816.88,347.75 L831.5,309.75"/>
<path d="M827.75,308.12 L813.12,346.5" stroke-width="1.1"/>
<path d="M794.38,324.38 L811.88,329.75"/>
<path d="M821.25,340.62 L845,329.38 L846.5,333.12 L820,345.38"/>
<path d="M851.88,318.12 L859.38,313.75 L873.75,319.5"/>
<path d="M851.88,318.12 L856.25,320.25 L861.5,318.5 L870,318.25"/>
<path d="M859.38,313.75 L861.5,318.5" stroke-width="1.1"/>
<path d="M852.12,318.5 L838.12,353.12 L843.75,355.62 L858.12,321.25"/>
<path d="M856.25,320.5 L841.5,354.75" stroke-width="1.1"/>
<path d="M861.5,318.75 L861.5,348.12 L843.75,355.62"/>
<path d="M861.5,348.12 L895.38,361"/>
<path d="M873.75,319.4 C875.21,320.75 879.79,324.48 882.5,327.5 C885.21,330.52 887.5,333.75 890,337.5 C892.5,341.25 895.25,345.42 897.5,350 C899.75,354.58 901.75,360 903.5,365 C905.25,370 906.78,374.67 908,380 C909.22,385.33 910.22,391.83 910.8,397 C911.38,402.17 911.63,406 911.5,411 C911.37,416 910.92,422.5 910,427 C909.08,431.5 907.5,435.08 906,438 C904.5,440.92 901.83,443.42 901,444.5"/>
<path d="M870,318.5 C871.25,319.79 874.83,323.08 877.5,326.25 C880.17,329.42 883.42,333.38 886,337.5 C888.58,341.62 890.92,346.25 893,351 C895.08,355.75 896.92,361 898.5,366 C900.08,371 901.42,375.83 902.5,381 C903.58,386.17 904.45,392 905,397 C905.55,402 905.9,406.33 905.8,411 C905.7,415.67 905.28,420.5 904.4,425 C903.52,429.5 901.55,434.53 900.5,438 C899.45,441.47 898.5,444.5 898.1,445.8"/>
<path d="M730.6,478.6 L730.6,487.7"/>
<path d="M736,478.6 L736,487.7"/>
<path d="M730.6,487.7 Q733.3,491 736,487.7"/>
<path d="M743.16,456.79 L743.16,492.18"/>
<path d="M748.56,458.59 L748.56,492.18"/>
<path d="M743.16,492.18 Q745.86,495.48 748.56,492.18"/>
<path d="M755.72,461.23 L755.72,496.65"/>
<path d="M761.12,463.03 L761.12,496.65"/>
<path d="M755.72,496.65 Q758.42,499.95 761.12,496.65"/>
<path d="M768.28,465.68 L768.28,501.12"/>
<path d="M773.68,467.48 L773.68,501.12"/>
<path d="M768.28,501.12 Q770.98,504.43 773.68,501.12"/>
<path d="M780.84,470.12 L780.84,505.6"/>
<path d="M786.24,471.92 L786.24,505.6"/>
<path d="M780.84,505.6 Q783.54,508.9 786.24,505.6"/>
<path d="M793.4,474.57 L793.4,510.07"/>
<path d="M798.8,476.37 L798.8,510.07"/>
<path d="M793.4,510.07 Q796.1,513.38 798.8,510.07"/>
<path d="M805.96,479.02 L805.96,514.55"/>
<path d="M811.36,480.82 L811.36,514.55"/>
<path d="M805.96,514.55 Q808.66,517.85 811.36,514.55"/>
<path d="M818.52,483.46 L818.52,519.02"/>
<path d="M823.92,485.26 L823.92,519.02"/>
<path d="M818.52,519.02 Q821.22,522.32 823.92,519.02"/>
<path d="M831.08,487.91 L831.08,523.5"/>
<path d="M836.48,489.71 L836.48,523.5"/>
<path d="M831.08,523.5 Q833.78,526.8 836.48,523.5"/>
<path d="M843.64,492.36 L843.64,527.98"/>
<path d="M849.04,494.16 L849.04,527.98"/>
<path d="M843.64,527.98 Q846.34,531.27 849.04,527.98"/>
<path d="M856.2,496.8 L856.2,532.45"/>
<path d="M861.6,498.6 L861.6,532.45"/>
<path d="M856.2,532.45 Q858.9,535.75 861.6,532.45"/>
<path d="M868.76,501.25 L868.76,536.92"/>
<path d="M874.16,503.05 L874.16,536.92"/>
<path d="M868.76,536.92 Q871.46,540.22 874.16,536.92"/>
<path d="M881.32,505.69 L881.32,541.4"/>
<path d="M886.72,507.49 L886.72,541.4"/>
<path d="M881.32,541.4 Q884.02,544.7 886.72,541.4"/>
<path d="M893.88,510.14 L893.88,545.88"/>
<path d="M899.28,511.94 L899.28,545.88"/>
<path d="M893.88,545.88 Q896.58,549.17 899.28,545.88"/>
<path d="M906.44,540.4 L906.44,550.35"/>
<path d="M911.84,540.4 L911.84,550.35"/>
<path d="M906.44,550.35 Q909.14,553.65 911.84,550.35"/>
<path d="M919,544.4 L919,554.83"/>
<path d="M924.4,544.4 L924.4,554.83"/>
<path d="M919,554.83 Q921.7,558.12 924.4,554.83"/>
<path d="M931.56,546.6 L931.56,559.3"/>
<path d="M936.96,546.6 L936.96,559.3"/>
<path d="M931.56,559.3 Q934.26,562.6 936.96,559.3"/>
<path d="M944.12,516.6 L944.12,563.77"/>
<path d="M949.52,516.6 L949.52,563.77"/>
<path d="M944.12,563.77 Q946.82,567.07 949.52,563.77"/>
</g>
<g id="iso2">
<path d="M952.5,1169.2 C953.25,1171 955.75,1175.7 957,1180 C958.25,1184.3 959.42,1190.5 960,1195 C960.58,1199.5 960.83,1202.5 960.5,1207 C960.17,1211.5 959.42,1217.33 958,1222 C956.58,1226.67 954.5,1231 952,1235 C949.5,1239 947,1242.33 943,1246 C939,1249.67 932.67,1254.5 928,1257 C923.33,1259.5 918.08,1260.67 915,1261 C911.92,1261.33 910.42,1259.33 909.5,1259"/>
<path d="M955.4,1170.4 C956.17,1172.17 958.7,1176.9 960,1181 C961.3,1185.1 962.6,1190.5 963.2,1195 C963.8,1199.5 963.97,1203.33 963.6,1208 C963.23,1212.67 961.43,1220.5 961,1223"/>
<path d="M961.6,1224.5 C962.47,1224.52 965.7,1223.92 966.8,1224.6 C967.9,1225.28 968.67,1226.95 968.2,1228.6 C967.73,1230.25 965.95,1232.35 964,1234.5 C962.05,1236.65 957.75,1240.33 956.5,1241.5"/>
<path d="M962.4,1226.6 L966.4,1226" stroke-width="1"/>
<path d="M837.5,1047 L1007,1114.4"/>
<path d="M799.7,1041.7 V1018.5 Q799.9,1014.6 804,1013.4 Q807,1012.8 810.5,1014.8 L826,1020.4 Q835.5,1024 836,1028 L837.6,1046.8"/>
<path d="M803.2,1040.2 V1020.5 Q803.6,1017.6 806.6,1017.4 L826.5,1024.4 Q831.6,1026.6 832,1030 L833,1045" stroke-width="1.1"/>
<path d="M776.7,1056.7 L786,1048.5 L799.7,1041.7"/>
<path d="M786,1048.5 L791.5,1050.5" stroke-width="1.1"/>
<path d="M1012.5,1148.3 L1017.5,1149.2 L1045,1133.4 L1045,1170.8 L1013.3,1192.5Z" fill="#ffffff"/>
<path d="M1007.5,1123.3 V1099 Q1007.8,1096.4 1011.5,1095.6 Q1015,1094.8 1018.6,1095.9 L1040,1104.2 Q1044.8,1106 1045,1109.5 V1134"/>
<path d="M1018.3,1102.6 L1036.5,1109.9 L1037.5,1133.5 Q1037.4,1137.6 1034.5,1139.5 L1017.5,1149.2" stroke-width="1"/>
<path d="M1018.3,1102.6 L1018.3,1141" stroke-width="1.1"/>
<path d="M1011.5,1096.5 L1018.3,1102.6" stroke-width="1.1"/>
<path d="M1040,1104.2 L1036.5,1109.9" stroke-width="1.1"/>
<path d="M1006.7,1146.4 L1012.8,1148.8 L1017.5,1149.2"/>
<path d="M1017.5,1149.2 L1017.5,1189.6" stroke-width="1.1"/>
<path d="M776.7,1056.7 L776.7,1098.3 L1013.3,1192.5 L1012.5,1148.3Z" fill="#ffffff" stroke="none"/>
<path d="M776.7,1056.7 L776.7,1098.3 L837.5,1122.5"/>
<path d="M952.5,1169.2 L1013.3,1192.5 L1012.5,1148.3"/>
<path d="M786.4,1057 V1092.6 A4.4,6 0 0 0 795.2,1092.6 V1060.5" stroke-width="2"/>
<path d="M788.6,1062.5 V1092.1 A2.3,4 0 0 0 793.2,1092.1 V1064.5" stroke-width="1.3"/>
<path d="M794.2,1066.5 L788.8,1089.6" stroke-width="1"/>
<path d="M793.2,1080.5 L790,1095.1" stroke-width="1"/>
<path d="M786.4,1079.5 L789.6,1080.3" stroke-width="1.1"/>
<path d="M795.6,1056.1 L798.4,1058.2 L799.4,1062.2" stroke-width="1.3"/>
<path d="M795.2,1060.5 L797.6,1061.6" stroke-width="1.2"/>
<path d="M795.6,1056.1 L795.2,1060.5" stroke-width="1"/>
<path d="M799.4,1062.2 V1097.8 A4.4,6 0 0 0 808.2,1097.8 V1065.7" stroke-width="2"/>
<path d="M801.6,1067.7 V1097.3 A2.3,4 0 0 0 806.2,1097.3 V1069.7" stroke-width="1.3"/>
<path d="M807.2,1071.7 L801.8,1094.8" stroke-width="1"/>
<path d="M806.2,1085.7 L803,1100.3" stroke-width="1"/>
<path d="M799.4,1084.7 L802.6,1085.5" stroke-width="1.1"/>
<path d="M808.6,1061.3 L811.4,1063.4 L812.4,1067.4" stroke-width="1.3"/>
<path d="M808.2,1065.7 L810.6,1066.8" stroke-width="1.2"/>
<path d="M808.6,1061.3 L808.2,1065.7" stroke-width="1"/>
<path d="M812.4,1067.4 V1103 A4.4,6 0 0 0 821.2,1103 V1070.9" stroke-width="2"/>
<path d="M814.6,1072.9 V1102.5 A2.3,4 0 0 0 819.2,1102.5 V1074.9" stroke-width="1.3"/>
<path d="M820.2,1076.9 L814.8,1100" stroke-width="1"/>
<path d="M819.2,1090.9 L816,1105.5" stroke-width="1"/>
<path d="M812.4,1089.9 L815.6,1090.7" stroke-width="1.1"/>
<path d="M821.6,1066.5 L824.4,1068.6 L825.4,1072.6" stroke-width="1.3"/>
<path d="M821.2,1070.9 L823.6,1072" stroke-width="1.2"/>
<path d="M821.6,1066.5 L821.2,1070.9" stroke-width="1"/>
<path d="M825.4,1072.6 V1108.2 A4.4,6 0 0 0 834.2,1108.2 V1076.1" stroke-width="2"/>
<path d="M827.6,1078.1 V1107.7 A2.3,4 0 0 0 832.2,1107.7 V1080.1" stroke-width="1.3"/>
<path d="M833.2,1082.1 L827.8,1105.2" stroke-width="1"/>
<path d="M832.2,1096.1 L829,1110.7" stroke-width="1"/>
<path d="M825.4,1095.1 L828.6,1095.9" stroke-width="1.1"/>
<path d="M834.6,1071.7 L837.4,1073.8 L838.4,1077.8" stroke-width="1.3"/>
<path d="M834.2,1076.1 L836.6,1077.2" stroke-width="1.2"/>
<path d="M834.6,1071.7 L834.2,1076.1" stroke-width="1"/>
<path d="M838.4,1077.8 V1113.4 A4.4,6 0 0 0 847.2,1113.4 V1081.3" stroke-width="2"/>
<path d="M840.6,1083.3 V1112.9 A2.3,4 0 0 0 845.2,1112.9 V1085.3" stroke-width="1.3"/>
<path d="M846.2,1087.3 L840.8,1110.4" stroke-width="1"/>
<path d="M845.2,1101.3 L842,1115.9" stroke-width="1"/>
<path d="M838.4,1100.3 L841.6,1101.1" stroke-width="1.1"/>
<path d="M847.6,1076.9 L850.4,1079 L851.4,1083" stroke-width="1.3"/>
<path d="M847.2,1081.3 L849.6,1082.4" stroke-width="1.2"/>
<path d="M847.6,1076.9 L847.2,1081.3" stroke-width="1"/>
<path d="M851.4,1083 V1118.6 A4.4,6 0 0 0 860.2,1118.6 V1086.5" stroke-width="2"/>
<path d="M853.6,1088.5 V1118.1 A2.3,4 0 0 0 858.2,1118.1 V1090.5" stroke-width="1.3"/>
<path d="M859.2,1092.5 L853.8,1115.6" stroke-width="1"/>
<path d="M858.2,1106.5 L855,1121.1" stroke-width="1"/>
<path d="M851.4,1105.5 L854.6,1106.3" stroke-width="1.1"/>
<path d="M860.6,1082.1 L863.4,1084.2 L864.4,1088.2" stroke-width="1.3"/>
<path d="M860.2,1086.5 L862.6,1087.6" stroke-width="1.2"/>
<path d="M860.6,1082.1 L860.2,1086.5" stroke-width="1"/>
<path d="M864.4,1088.2 V1123.8 A4.4,6 0 0 0 873.2,1123.8 V1091.7" stroke-width="2"/>
<path d="M866.6,1093.7 V1123.3 A2.3,4 0 0 0 871.2,1123.3 V1095.7" stroke-width="1.3"/>
<path d="M872.2,1097.7 L866.8,1120.8" stroke-width="1"/>
<path d="M871.2,1111.7 L868,1126.3" stroke-width="1"/>
<path d="M864.4,1110.7 L867.6,1111.5" stroke-width="1.1"/>
<path d="M873.6,1087.3 L876.4,1089.4 L877.4,1093.4" stroke-width="1.3"/>
<path d="M873.2,1091.7 L875.6,1092.8" stroke-width="1.2"/>
<path d="M873.6,1087.3 L873.2,1091.7" stroke-width="1"/>
<path d="M877.4,1093.4 V1129 A4.4,6 0 0 0 886.2,1129 V1096.9" stroke-width="2"/>
<path d="M879.6,1098.9 V1128.5 A2.3,4 0 0 0 884.2,1128.5 V1100.9" stroke-width="1.3"/>
<path d="M885.2,1102.9 L879.8,1126" stroke-width="1"/>
<path d="M884.2,1116.9 L881,1131.5" stroke-width="1"/>
<path d="M877.4,1115.9 L880.6,1116.7" stroke-width="1.1"/>
<path d="M886.6,1092.5 L889.4,1094.6 L890.4,1098.6" stroke-width="1.3"/>
<path d="M886.2,1096.9 L888.6,1098" stroke-width="1.2"/>
<path d="M886.6,1092.5 L886.2,1096.9" stroke-width="1"/>
<path d="M890.4,1098.6 V1134.2 A4.4,6 0 0 0 899.2,1134.2 V1102.1" stroke-width="2"/>
<path d="M892.6,1104.1 V1133.7 A2.3,4 0 0 0 897.2,1133.7 V1106.1" stroke-width="1.3"/>
<path d="M898.2,1108.1 L892.8,1131.2" stroke-width="1"/>
<path d="M897.2,1122.1 L894,1136.7" stroke-width="1"/>
<path d="M890.4,1121.1 L893.6,1121.9" stroke-width="1.1"/>
<path d="M899.6,1097.7 L902.4,1099.8 L903.4,1103.8" stroke-width="1.3"/>
<path d="M899.2,1102.1 L901.6,1103.2" stroke-width="1.2"/>
<path d="M899.6,1097.7 L899.2,1102.1" stroke-width="1"/>
<path d="M903.4,1103.8 V1139.4 A4.4,6 0 0 0 912.2,1139.4 V1107.3" stroke-width="2"/>
<path d="M905.6,1109.3 V1138.9 A2.3,4 0 0 0 910.2,1138.9 V1111.3" stroke-width="1.3"/>
<path d="M911.2,1113.3 L905.8,1136.4" stroke-width="1"/>
<path d="M910.2,1127.3 L907,1141.9" stroke-width="1"/>
<path d="M903.4,1126.3 L906.6,1127.1" stroke-width="1.1"/>
<path d="M912.6,1102.9 L915.4,1105 L916.4,1109" stroke-width="1.3"/>
<path d="M912.2,1107.3 L914.6,1108.4" stroke-width="1.2"/>
<path d="M912.6,1102.9 L912.2,1107.3" stroke-width="1"/>
<path d="M916.4,1109 V1144.6 A4.4,6 0 0 0 925.2,1144.6 V1112.5" stroke-width="2"/>
<path d="M918.6,1114.5 V1144.1 A2.3,4 0 0 0 923.2,1144.1 V1116.5" stroke-width="1.3"/>
<path d="M924.2,1118.5 L918.8,1141.6" stroke-width="1"/>
<path d="M923.2,1132.5 L920,1147.1" stroke-width="1"/>
<path d="M916.4,1131.5 L919.6,1132.3" stroke-width="1.1"/>
<path d="M925.6,1108.1 L928.4,1110.2 L929.4,1114.2" stroke-width="1.3"/>
<path d="M925.2,1112.5 L927.6,1113.6" stroke-width="1.2"/>
<path d="M925.6,1108.1 L925.2,1112.5" stroke-width="1"/>
<path d="M929.4,1114.2 V1149.8 A4.4,6 0 0 0 938.2,1149.8 V1117.7" stroke-width="2"/>
<path d="M931.6,1119.7 V1149.3 A2.3,4 0 0 0 936.2,1149.3 V1121.7" stroke-width="1.3"/>
<path d="M937.2,1123.7 L931.8,1146.8" stroke-width="1"/>
<path d="M936.2,1137.7 L933,1152.3" stroke-width="1"/>
<path d="M929.4,1136.7 L932.6,1137.5" stroke-width="1.1"/>
<path d="M938.6,1113.3 L941.4,1115.4 L942.4,1119.4" stroke-width="1.3"/>
<path d="M938.2,1117.7 L940.6,1118.8" stroke-width="1.2"/>
<path d="M938.6,1113.3 L938.2,1117.7" stroke-width="1"/>
<path d="M942.4,1119.4 V1155 A4.4,6 0 0 0 951.2,1155 V1122.9" stroke-width="2"/>
<path d="M944.6,1124.9 V1154.5 A2.3,4 0 0 0 949.2,1154.5 V1126.9" stroke-width="1.3"/>
<path d="M950.2,1128.9 L944.8,1152" stroke-width="1"/>
<path d="M949.2,1142.9 L946,1157.5" stroke-width="1"/>
<path d="M942.4,1141.9 L945.6,1142.7" stroke-width="1.1"/>
<path d="M951.6,1118.5 L954.4,1120.6 L955.4,1124.6" stroke-width="1.3"/>
<path d="M951.2,1122.9 L953.6,1124" stroke-width="1.2"/>
<path d="M951.6,1118.5 L951.2,1122.9" stroke-width="1"/>
<path d="M955.4,1124.6 V1160.2 A4.4,6 0 0 0 964.2,1160.2 V1128.1" stroke-width="2"/>
<path d="M957.6,1130.1 V1159.7 A2.3,4 0 0 0 962.2,1159.7 V1132.1" stroke-width="1.3"/>
<path d="M963.2,1134.1 L957.8,1157.2" stroke-width="1"/>
<path d="M962.2,1148.1 L959,1162.7" stroke-width="1"/>
<path d="M955.4,1147.1 L958.6,1147.9" stroke-width="1.1"/>
<path d="M964.6,1123.7 L967.4,1125.8 L968.4,1129.8" stroke-width="1.3"/>
<path d="M964.2,1128.1 L966.6,1129.2" stroke-width="1.2"/>
<path d="M964.6,1123.7 L964.2,1128.1" stroke-width="1"/>
<path d="M968.4,1129.8 V1165.4 A4.4,6 0 0 0 977.2,1165.4 V1133.3" stroke-width="2"/>
<path d="M970.6,1135.3 V1164.9 A2.3,4 0 0 0 975.2,1164.9 V1137.3" stroke-width="1.3"/>
<path d="M976.2,1139.3 L970.8,1162.4" stroke-width="1"/>
<path d="M975.2,1153.3 L972,1167.9" stroke-width="1"/>
<path d="M968.4,1152.3 L971.6,1153.1" stroke-width="1.1"/>
<path d="M977.6,1128.9 L980.4,1131 L981.4,1135" stroke-width="1.3"/>
<path d="M977.2,1133.3 L979.6,1134.4" stroke-width="1.2"/>
<path d="M977.6,1128.9 L977.2,1133.3" stroke-width="1"/>
<path d="M981.4,1135 V1170.6 A4.4,6 0 0 0 990.2,1170.6 V1138.5" stroke-width="2"/>
<path d="M983.6,1140.5 V1170.1 A2.3,4 0 0 0 988.2,1170.1 V1142.5" stroke-width="1.3"/>
<path d="M989.2,1144.5 L983.8,1167.6" stroke-width="1"/>
<path d="M988.2,1158.5 L985,1173.1" stroke-width="1"/>
<path d="M981.4,1157.5 L984.6,1158.3" stroke-width="1.1"/>
<path d="M990.6,1134.1 L993.4,1136.2 L994.4,1140.2" stroke-width="1.3"/>
<path d="M990.2,1138.5 L992.6,1139.6" stroke-width="1.2"/>
<path d="M990.6,1134.1 L990.2,1138.5" stroke-width="1"/>
<path d="M994.4,1140.2 V1175.8 A4.4,6 0 0 0 1003.2,1175.8 V1143.7" stroke-width="2"/>
<path d="M996.6,1145.7 V1175.3 A2.3,4 0 0 0 1001.2,1175.3 V1147.7" stroke-width="1.3"/>
<path d="M1002.2,1149.7 L996.8,1172.8" stroke-width="1"/>
<path d="M1001.2,1163.7 L998,1178.3" stroke-width="1"/>
<path d="M994.4,1162.7 L997.6,1163.5" stroke-width="1.1"/>
<path d="M1003.6,1139.3 L1011.5,1144.3 L1012.5,1148.3" stroke-width="1.3"/>
<path d="M1003.2,1143.7 L1010.7,1147.7" stroke-width="1.2"/>
<path d="M1003.6,1139.3 L1003.2,1143.7" stroke-width="1"/>
<path d="M776.7,1056.7 L786.4,1060.4"/>
<path d="M790.85,1054.4 V1002 A2.9,1.6 0 0 1 796.65,1002 V1054.4" fill="#ffffff"/><ellipse cx="793.75" cy="1002.2" rx="2.4" ry="1.5" stroke-width="0.9"/>
<path d="M790.85,1054.4 Q793.75,1056.6 796.65,1054.4" stroke-width="1"/>
<path d="M803.85,1059.6 V1007.2 A2.9,1.6 0 0 1 809.65,1007.2 V1059.6" fill="#ffffff"/><ellipse cx="806.75" cy="1007.4" rx="2.4" ry="1.5" stroke-width="0.9"/>
<path d="M803.85,1059.6 Q806.75,1061.8 809.65,1059.6" stroke-width="1"/>
<path d="M816.85,1064.8 V1012.4 A2.9,1.6 0 0 1 822.65,1012.4 V1064.8" fill="#ffffff"/><ellipse cx="819.75" cy="1012.6" rx="2.4" ry="1.5" stroke-width="0.9"/>
<path d="M816.85,1064.8 Q819.75,1067 822.65,1064.8" stroke-width="1"/>
<path d="M829.85,1070 V1017.6 A2.9,1.6 0 0 1 835.65,1017.6 V1070" fill="#ffffff"/><ellipse cx="832.75" cy="1017.8" rx="2.4" ry="1.5" stroke-width="0.9"/>
<path d="M829.85,1070 Q832.75,1072.2 835.65,1070" stroke-width="1"/>
<path d="M842.85,1075.2 V1022.8 A2.9,1.6 0 0 1 848.65,1022.8 V1075.2" fill="#ffffff"/><ellipse cx="845.75" cy="1023" rx="2.4" ry="1.5" stroke-width="0.9"/>
<path d="M842.85,1075.2 Q845.75,1077.4 848.65,1075.2" stroke-width="1"/>
<path d="M855.85,1080.4 V1028 A2.9,1.6 0 0 1 861.65,1028 V1080.4" fill="#ffffff"/><ellipse cx="858.75" cy="1028.2" rx="2.4" ry="1.5" stroke-width="0.9"/>
<path d="M855.85,1080.4 Q858.75,1082.6 861.65,1080.4" stroke-width="1"/>
<path d="M868.85,1085.6 V1033.2 A2.9,1.6 0 0 1 874.65,1033.2 V1085.6" fill="#ffffff"/><ellipse cx="871.75" cy="1033.4" rx="2.4" ry="1.5" stroke-width="0.9"/>
<path d="M868.85,1085.6 Q871.75,1087.8 874.65,1085.6" stroke-width="1"/>
<path d="M881.85,1090.8 V1038.4 A2.9,1.6 0 0 1 887.65,1038.4 V1090.8" fill="#ffffff"/><ellipse cx="884.75" cy="1038.6" rx="2.4" ry="1.5" stroke-width="0.9"/>
<path d="M881.85,1090.8 Q884.75,1093 887.65,1090.8" stroke-width="1"/>
<path d="M894.85,1096 V1043.6 A2.9,1.6 0 0 1 900.65,1043.6 V1096" fill="#ffffff"/><ellipse cx="897.75" cy="1043.8" rx="2.4" ry="1.5" stroke-width="0.9"/>
<path d="M894.85,1096 Q897.75,1098.2 900.65,1096" stroke-width="1"/>
<path d="M907.85,1101.2 V1048.8 A2.9,1.6 0 0 1 913.65,1048.8 V1101.2" fill="#ffffff"/><ellipse cx="910.75" cy="1049" rx="2.4" ry="1.5" stroke-width="0.9"/>
<path d="M907.85,1101.2 Q910.75,1103.4 913.65,1101.2" stroke-width="1"/>
<path d="M920.85,1106.4 V1054 A2.9,1.6 0 0 1 926.65,1054 V1106.4" fill="#ffffff"/><ellipse cx="923.75" cy="1054.2" rx="2.4" ry="1.5" stroke-width="0.9"/>
<path d="M920.85,1106.4 Q923.75,1108.6 926.65,1106.4" stroke-width="1"/>
<path d="M933.85,1111.6 V1059.2 A2.9,1.6 0 0 1 939.65,1059.2 V1111.6" fill="#ffffff"/><ellipse cx="936.75" cy="1059.4" rx="2.4" ry="1.5" stroke-width="0.9"/>
<path d="M933.85,1111.6 Q936.75,1113.8 939.65,1111.6" stroke-width="1"/>
<path d="M946.85,1116.8 V1064.4 A2.9,1.6 0 0 1 952.65,1064.4 V1116.8" fill="#ffffff"/><ellipse cx="949.75" cy="1064.6" rx="2.4" ry="1.5" stroke-width="0.9"/>
<path d="M946.85,1116.8 Q949.75,1119 952.65,1116.8" stroke-width="1"/>
<path d="M959.85,1122 V1069.6 A2.9,1.6 0 0 1 965.65,1069.6 V1122" fill="#ffffff"/><ellipse cx="962.75" cy="1069.8" rx="2.4" ry="1.5" stroke-width="0.9"/>
<path d="M959.85,1122 Q962.75,1124.2 965.65,1122" stroke-width="1"/>
<path d="M972.85,1127.2 V1074.8 A2.9,1.6 0 0 1 978.65,1074.8 V1127.2" fill="#ffffff"/><ellipse cx="975.75" cy="1075" rx="2.4" ry="1.5" stroke-width="0.9"/>
<path d="M972.85,1127.2 Q975.75,1129.4 978.65,1127.2" stroke-width="1"/>
<path d="M985.85,1132.4 V1080 A2.9,1.6 0 0 1 991.65,1080 V1132.4" fill="#ffffff"/><ellipse cx="988.75" cy="1080.2" rx="2.4" ry="1.5" stroke-width="0.9"/>
<path d="M985.85,1132.4 Q988.75,1134.6 991.65,1132.4" stroke-width="1"/>
<path d="M998.85,1137.6 V1085.2 A2.9,1.6 0 0 1 1004.65,1085.2 V1137.6" fill="#ffffff"/><ellipse cx="1001.75" cy="1085.4" rx="2.4" ry="1.5" stroke-width="0.9"/>
<path d="M998.85,1137.6 Q1001.75,1139.8 1004.65,1137.6" stroke-width="1"/>
<path d="M1011.85,1142.8 V1090.4 A2.9,1.6 0 0 1 1017.65,1090.4 V1142.8" fill="#ffffff"/><ellipse cx="1014.75" cy="1090.6" rx="2.4" ry="1.5" stroke-width="0.9"/>
<path d="M1011.85,1142.8 Q1014.75,1145 1017.65,1142.8" stroke-width="1"/>
<path d="M838.12,1123.75 C837.85,1124.48 836.88,1125.83 836.5,1128.12 C836.12,1130.42 835.96,1131.15 835.88,1137.5 C835.79,1143.85 835.98,1161.46 836,1166.25"/>
<path d="M836.25,1166.25 L865,1147.5"/>
<path d="M865,1147.5 C866.25,1146.25 869.58,1141.77 872.5,1140 C875.42,1138.23 878.75,1136.9 882.5,1136.9 C886.25,1136.9 890.83,1137.82 895,1140 C899.17,1142.18 903.33,1146.25 907.5,1150 C911.67,1153.75 916.95,1158.67 920,1162.5 C923.05,1166.33 924.13,1167.92 925.8,1173 C927.47,1178.08 929.17,1186.33 930,1193 C930.83,1199.67 930.97,1205.17 930.8,1213 C930.63,1220.83 929.3,1235.5 929,1240"/>
<path d="M868,1148.5 C869,1147.52 871.58,1144.03 874,1142.6 C876.42,1141.17 879.25,1139.87 882.5,1139.9 C885.75,1139.93 889.7,1140.75 893.5,1142.8 C897.3,1144.85 901.32,1148.62 905.3,1152.2 C909.28,1155.78 914.47,1160.67 917.4,1164.3 C920.33,1167.93 921.3,1169.15 922.9,1174 C924.5,1178.85 926.18,1186.9 927,1193.4 C927.82,1199.9 927.9,1205.9 927.8,1213 C927.7,1220.1 926.63,1232.17 926.4,1236" stroke-width="1.1"/>
<path d="M741,1206.5 L740.93,1207.53 L740.81,1208.89 L740.67,1210.51 L740.53,1212.31 L740.4,1214.23 L740.3,1216.2 L740.24,1218.15 L740.25,1220 L740.32,1221.82 L740.43,1223.71 L740.58,1225.65 L740.76,1227.59 L740.98,1229.53 L741.22,1231.42 L741.47,1233.26 L741.75,1235 L742.05,1236.67 L742.38,1238.31 L742.73,1239.91 L743.11,1241.47 L743.5,1242.96 L743.91,1244.38 L744.33,1245.73 L744.75,1247 L745.21,1248.2 L745.72,1249.36 L746.26,1250.47 L746.81,1251.5 L747.33,1252.43 L747.81,1253.25 L748.2,1253.95 L748.5,1254.5 L748.5,1254.8 L747.83,1255.3 L746.9,1255.99 L745.8,1256.81 L744.59,1257.71 L743.35,1258.65 L742.17,1259.59 L741.11,1260.47 L740.25,1261.25 L739.56,1261.94 L738.95,1262.61 L738.41,1263.25 L737.95,1263.87 L737.56,1264.47 L737.24,1265.06 L736.99,1265.63 L736.8,1266.2 L736.68,1266.74 L736.63,1267.26 L736.65,1267.76 L736.73,1268.25 L736.88,1268.73 L737.1,1269.22 L737.37,1269.72 L737.7,1270.25 L738.15,1270.82 L738.74,1271.44 L739.42,1272.1 L740.16,1272.75 L740.88,1273.37 L741.55,1273.93 L742.1,1274.4 L742.5,1274.75 L786,1308.49 L792,1309.99 L816,1320.49 L823.49,1321.24 L823.49,1321.24 L824.04,1321.4 L824.74,1321.64 L825.56,1321.93 L826.49,1322.23 L827.52,1322.5 L828.63,1322.7 L829.79,1322.8 L830.99,1322.74 L832.28,1322.55 L833.68,1322.26 L835.16,1321.89 L836.71,1321.43 L838.3,1320.91 L839.89,1320.32 L841.46,1319.68 L842.99,1318.99 L844.5,1318.27 L846.03,1317.49 L847.56,1316.65 L849.09,1315.76 L850.6,1314.8 L852.1,1313.77 L853.57,1312.67 L854.99,1311.49 L856.41,1310.21 L857.83,1308.81 L859.24,1307.32 L860.62,1305.78 L861.95,1304.19 L863.22,1302.6 L864.41,1301.03 L865.49,1299.49 L866.48,1298 L867.38,1296.53 L868.2,1295.06 L868.96,1293.59 L869.66,1292.1 L870.31,1290.6 L870.92,1289.07 L871.49,1287.5 L872.03,1285.88 L872.52,1284.23 L872.97,1282.54 L873.37,1280.84 L873.72,1279.12 L874.02,1277.41 L874.28,1275.69 L874.49,1274 L874.64,1272.22 L874.7,1270.3 L874.71,1268.34 L874.68,1266.4 L874.62,1264.57 L874.56,1262.92 L874.51,1261.54 L874.49,1260.5 L874.5,1250 L741,1200Z" fill="#ffffff" stroke="none"/>
<path d="M741,1206.5 C740.87,1208.75 740.12,1215.25 740.25,1220 C740.37,1224.75 741,1230.5 741.75,1235 C742.5,1239.5 743.62,1243.75 744.75,1247 C745.87,1250.25 747.87,1253.25 748.5,1254.5"/>
<path d="M748.5,1254.8 C747.12,1255.87 742.2,1259.35 740.25,1261.25 C738.3,1263.15 737.22,1264.7 736.8,1266.2 C736.37,1267.7 736.75,1268.82 737.7,1270.25 C738.65,1271.67 741.7,1274 742.5,1274.75"/>
<path d="M874.49,1260.5 C874.49,1262.75 874.99,1269.5 874.49,1274 C873.99,1278.5 872.99,1283.25 871.49,1287.5 C869.99,1291.74 868.24,1295.49 865.49,1299.49 C862.74,1303.49 858.74,1308.24 854.99,1311.49 C851.24,1314.74 846.99,1317.12 842.99,1318.99 C838.99,1320.87 834.24,1322.37 830.99,1322.74 C827.74,1323.12 824.74,1321.49 823.49,1321.24"/>
<path d="M869.99,1257.5 C869.87,1260.25 869.87,1269 869.24,1274 C868.62,1279 867.62,1283.5 866.24,1287.5 C864.87,1291.49 861.87,1296.24 860.99,1297.99" stroke-width="1"/>
<path d="M748.5,1254.8 L859.79,1297.69"/>
<path d="M737.7,1268 L744,1271.75 L831.74,1306.24 L845.99,1306.69 L851.99,1304.29 L860.24,1298.29"/>
<path d="M742.5,1275.2 L829.49,1309.24 L846.74,1309.99 L853.49,1306.99 L860.99,1301.74 L860.24,1298.29"/>
<path d="M736.8,1266.2 L744,1271.75" stroke-width="1.1"/>
<path d="M776.25,1220.75 C776.12,1222.62 775.12,1227.87 775.5,1232 C775.87,1236.12 777,1241.25 778.5,1245.5 C780,1249.75 782,1253.75 784.5,1257.5 C787,1261.25 790.25,1265 793.5,1268 C796.75,1271 800.5,1273.87 804,1275.5 C807.5,1277.12 811,1278 814.5,1277.75 C818,1277.5 822.12,1276.12 824.99,1274 C827.87,1271.87 830.12,1268.5 831.74,1265 C833.37,1261.5 834.32,1256.62 834.74,1253 C835.17,1249.37 834.37,1244.87 834.29,1243.25"/>
<path d="M768,1288.25 L786,1308.49 L792,1309.99 L798.75,1305.49 L795.75,1299.19"/>
<path d="M771.75,1289.3 L789.75,1309.54" stroke-width="1.1"/>
<path d="M777.75,1293.19 L792,1309.99"/>
<path d="M801.75,1301.74 L816,1320.49 L820.49,1321.24 L822.74,1319.74 L822.74,1309.99"/>
<path d="M804.75,1302.49 L819,1320.94" stroke-width="1.1"/>
<path d="M810,1305.19 L822.74,1319.74"/>
<path d="M823.49,1321.24 L822.89,1320.19"/>
<path d="M689.2,1143.3 L869.5,1215.8 L898.5,1195.8 L718.2,1123.3Z" fill="#ffffff" stroke="none"/>
<path d="M897.7,1198.5 L905.3,1199.6 L927,1205 L927,1246.2 L897.7,1266.8Z" fill="#ffffff"/>
<path d="M905.3,1200.7 L905.3,1222.3 L925.8,1208.3 L925.8,1205"/>
<path d="M901,1200 L901,1264.4" stroke-width="1.1"/>
<path d="M660.8,1109 L660.8,1171.5 L662.5,1174 L897.7,1266.8 L897.7,1202.5 L870.6,1192 L869.5,1215.8 L689.2,1143.3 L690,1117.5 L662.4,1107.6Z" fill="#ffffff"/>
<path d="M662.8,1170.6 L897.7,1263.4" stroke-width="1.1"/>
<path d="M693.3,1142.6 L869.5,1212.6" stroke-width="1.1"/>
<path d="M661.7,1107.6 Q661.5,1105.5 664,1104 L667.6,1101.8 Q669.5,1101 672,1102.2 L693.5,1111.4 Q696.8,1113 696.7,1116 L698.3,1138.3 L689.2,1143.3" fill="#ffffff"/>
<path d="M690,1117.5 L696.7,1114.6"/>
<path d="M663.5,1109.8 L668.5,1105.4 L692.4,1115.2" stroke-width="1.1"/>
<path d="M692.4,1115.2 L691.6,1141.8" stroke-width="1.1"/>
<path d="M870.6,1192 V1188.9 Q870.8,1187.3 874.9,1186.6 L901.5,1195.3 Q905.4,1196.8 905.3,1199.6 L899.8,1202.9 Z" fill="#ffffff"/>
<path d="M872.4,1190.4 L900.6,1199.8" stroke-width="1.1"/>
<path d="M687.5,1111.6 V1068.7 A2.9,1.6 0 0 1 693.3,1068.7 V1111.6" fill="#ffffff"/><ellipse cx="690.4" cy="1068.9" rx="2.4" ry="1.5" stroke-width="0.9"/>
<circle cx="710.6" cy="1125.4" r="2.1" stroke-width="1.2"/>
<path d="M706.8,1124.6 a3.4,3 0 0 0 5.6,2.6" stroke-width="1"/>
<path d="M700.5,1125.8 V1073.9 A2.9,1.6 0 0 1 706.3,1073.9 V1125.8" fill="#ffffff"/><ellipse cx="703.4" cy="1074.1" rx="2.4" ry="1.5" stroke-width="0.9"/>
<path d="M700.5,1125.8 Q703.4,1128.2 706.3,1125.8" stroke-width="1"/>
<circle cx="723.6" cy="1130.6" r="2.1" stroke-width="1.2"/>
<path d="M719.8,1129.8 a3.4,3 0 0 0 5.6,2.6" stroke-width="1"/>
<path d="M713.5,1131 V1079.1 A2.9,1.6 0 0 1 719.3,1079.1 V1131" fill="#ffffff"/><ellipse cx="716.4" cy="1079.3" rx="2.4" ry="1.5" stroke-width="0.9"/>
<path d="M713.5,1131 Q716.4,1133.4 719.3,1131" stroke-width="1"/>
<circle cx="736.6" cy="1135.8" r="2.1" stroke-width="1.2"/>
<path d="M732.8,1135 a3.4,3 0 0 0 5.6,2.6" stroke-width="1"/>
<path d="M726.5,1136.2 V1084.3 A2.9,1.6 0 0 1 732.3,1084.3 V1136.2" fill="#ffffff"/><ellipse cx="729.4" cy="1084.5" rx="2.4" ry="1.5" stroke-width="0.9"/>
<path d="M726.5,1136.2 Q729.4,1138.6 732.3,1136.2" stroke-width="1"/>
<circle cx="749.6" cy="1141" r="2.1" stroke-width="1.2"/>
<path d="M745.8,1140.2 a3.4,3 0 0 0 5.6,2.6" stroke-width="1"/>
<path d="M739.5,1141.4 V1089.5 A2.9,1.6 0 0 1 745.3,1089.5 V1141.4" fill="#ffffff"/><ellipse cx="742.4" cy="1089.7" rx="2.4" ry="1.5" stroke-width="0.9"/>
<path d="M739.5,1141.4 Q742.4,1143.8 745.3,1141.4" stroke-width="1"/>
<circle cx="762.6" cy="1146.2" r="2.1" stroke-width="1.2"/>
<path d="M758.8,1145.4 a3.4,3 0 0 0 5.6,2.6" stroke-width="1"/>
<path d="M752.5,1146.6 V1094.7 A2.9,1.6 0 0 1 758.3,1094.7 V1146.6" fill="#ffffff"/><ellipse cx="755.4" cy="1094.9" rx="2.4" ry="1.5" stroke-width="0.9"/>
<path d="M752.5,1146.6 Q755.4,1149 758.3,1146.6" stroke-width="1"/>
<circle cx="775.6" cy="1151.4" r="2.1" stroke-width="1.2"/>
<path d="M771.8,1150.6 a3.4,3 0 0 0 5.6,2.6" stroke-width="1"/>
<path d="M765.5,1151.8 V1099.9 A2.9,1.6 0 0 1 771.3,1099.9 V1151.8" fill="#ffffff"/><ellipse cx="768.4" cy="1100.1" rx="2.4" ry="1.5" stroke-width="0.9"/>
<path d="M765.5,1151.8 Q768.4,1154.2 771.3,1151.8" stroke-width="1"/>
<circle cx="788.6" cy="1156.6" r="2.1" stroke-width="1.2"/>
<path d="M784.8,1155.8 a3.4,3 0 0 0 5.6,2.6" stroke-width="1"/>
<path d="M778.5,1157 V1105.1 A2.9,1.6 0 0 1 784.3,1105.1 V1157" fill="#ffffff"/><ellipse cx="781.4" cy="1105.3" rx="2.4" ry="1.5" stroke-width="0.9"/>
<path d="M778.5,1157 Q781.4,1159.4 784.3,1157" stroke-width="1"/>
<circle cx="801.6" cy="1161.8" r="2.1" stroke-width="1.2"/>
<path d="M797.8,1161 a3.4,3 0 0 0 5.6,2.6" stroke-width="1"/>
<path d="M791.5,1162.2 V1110.3 A2.9,1.6 0 0 1 797.3,1110.3 V1162.2" fill="#ffffff"/><ellipse cx="794.4" cy="1110.5" rx="2.4" ry="1.5" stroke-width="0.9"/>
<path d="M791.5,1162.2 Q794.4,1164.6 797.3,1162.2" stroke-width="1"/>
<circle cx="814.6" cy="1167" r="2.1" stroke-width="1.2"/>
<path d="M810.8,1166.2 a3.4,3 0 0 0 5.6,2.6" stroke-width="1"/>
<path d="M804.5,1167.4 V1115.5 A2.9,1.6 0 0 1 810.3,1115.5 V1167.4" fill="#ffffff"/><ellipse cx="807.4" cy="1115.7" rx="2.4" ry="1.5" stroke-width="0.9"/>
<path d="M804.5,1167.4 Q807.4,1169.8 810.3,1167.4" stroke-width="1"/>
<circle cx="827.6" cy="1172.2" r="2.1" stroke-width="1.2"/>
<path d="M823.8,1171.4 a3.4,3 0 0 0 5.6,2.6" stroke-width="1"/>
<path d="M817.5,1172.6 V1120.7 A2.9,1.6 0 0 1 823.3,1120.7 V1172.6" fill="#ffffff"/><ellipse cx="820.4" cy="1120.9" rx="2.4" ry="1.5" stroke-width="0.9"/>
<path d="M817.5,1172.6 Q820.4,1175 823.3,1172.6" stroke-width="1"/>
<circle cx="840.6" cy="1177.4" r="2.1" stroke-width="1.2"/>
<path d="M836.8,1176.6 a3.4,3 0 0 0 5.6,2.6" stroke-width="1"/>
<path d="M830.5,1177.8 V1125.9 A2.9,1.6 0 0 1 836.3,1125.9 V1177.8" fill="#ffffff"/><ellipse cx="833.4" cy="1126.1" rx="2.4" ry="1.5" stroke-width="0.9"/>
<path d="M830.5,1177.8 Q833.4,1180.2 836.3,1177.8" stroke-width="1"/>
<circle cx="853.6" cy="1182.6" r="2.1" stroke-width="1.2"/>
<path d="M849.8,1181.8 a3.4,3 0 0 0 5.6,2.6" stroke-width="1"/>
<path d="M843.5,1183 V1131.1 A2.9,1.6 0 0 1 849.3,1131.1 V1183" fill="#ffffff"/><ellipse cx="846.4" cy="1131.3" rx="2.4" ry="1.5" stroke-width="0.9"/>
<path d="M843.5,1183 Q846.4,1185.4 849.3,1183" stroke-width="1"/>
<circle cx="866.6" cy="1187.8" r="2.1" stroke-width="1.2"/>
<path d="M862.8,1187 a3.4,3 0 0 0 5.6,2.6" stroke-width="1"/>
<path d="M856.5,1188.2 V1136.3 A2.9,1.6 0 0 1 862.3,1136.3 V1188.2" fill="#ffffff"/><ellipse cx="859.4" cy="1136.5" rx="2.4" ry="1.5" stroke-width="0.9"/>
<path d="M856.5,1188.2 Q859.4,1190.6 862.3,1188.2" stroke-width="1"/>
<path d="M869.5,1188.4 V1141.5 A2.9,1.6 0 0 1 875.3,1141.5 V1188.4" fill="#ffffff"/><ellipse cx="872.4" cy="1141.7" rx="2.4" ry="1.5" stroke-width="0.9"/>
<path d="M882.5,1190.6 V1146.7 A2.9,1.6 0 0 1 888.3,1146.7 V1190.6" fill="#ffffff"/><ellipse cx="885.4" cy="1146.9" rx="2.4" ry="1.5" stroke-width="0.9"/>
<path d="M895.5,1195.2 V1151.9 A2.9,1.6 0 0 1 901.3,1151.9 V1195.2" fill="#ffffff"/><ellipse cx="898.4" cy="1152.1" rx="2.4" ry="1.5" stroke-width="0.9"/>
<path d="M908.5,1207.6 V1157.1 A2.9,1.6 0 0 1 914.3,1157.1 V1207.6" fill="#ffffff"/><ellipse cx="911.4" cy="1157.3" rx="2.4" ry="1.5" stroke-width="0.9"/>
</g>
<g id="wm" style="mix-blend-mode:multiply">
<text transform="translate(361.57 992.26) rotate(-36.6) scale(0.67 1)" x="0" y="0" font-family="Liberation Serif, serif" font-size="152" text-anchor="middle" fill="#c9c9c9" stroke="none">w</text>
<text transform="translate(418.57 949.93) rotate(-36.6) scale(0.67 1)" x="0" y="0" font-family="Liberation Serif, serif" font-size="152" text-anchor="middle" fill="#c9c9c9" stroke="none">w</text>
<text transform="translate(474.77 908.19) rotate(-36.6) scale(0.67 1)" x="0" y="0" font-family="Liberation Serif, serif" font-size="152" text-anchor="middle" fill="#c9c9c9" stroke="none">w</text>
<circle cx="514.36" cy="867.58" r="10" fill="#c9c9c9" stroke="none"/>
<text transform="translate(591.18 821.74) rotate(-36.6) scale(1.1 1)" x="0" y="0" font-family="Liberation Serif, serif" font-size="152" text-anchor="middle" fill="#c9c9c9" stroke="none">f</text>
<text transform="translate(651.39 777.02) rotate(-36.6) scale(1.05 1)" x="0" y="0" font-family="Liberation Serif, serif" font-size="152" text-anchor="middle" fill="#c9c9c9" stroke="none">s</text>
<text transform="translate(716.42 728.73) rotate(-36.6) scale(0.95 1)" x="0" y="0" font-family="Liberation Serif, serif" font-size="152" text-anchor="middle" fill="#c9c9c9" stroke="none">h</text>
<text transform="translate(775.02 685.2) rotate(-36.6) scale(0.98 1)" x="0" y="0" font-family="Liberation Serif, serif" font-size="152" text-anchor="middle" fill="#c9c9c9" stroke="none">g</text>
<text transform="translate(833.63 641.68) rotate(-36.6) scale(1.05 1)" x="0" y="0" font-family="Liberation Serif, serif" font-size="152" text-anchor="middle" fill="#c9c9c9" stroke="none">s</text>
<circle cx="865.99" cy="606.43" r="10" fill="#c9c9c9" stroke="none"/>
<text transform="translate(946.82 557.61) rotate(-36.6) scale(1 1)" x="0" y="0" font-family="Liberation Serif, serif" font-size="152" text-anchor="middle" fill="#c9c9c9" stroke="none">c</text>
<text transform="translate(1009.44 511.11) rotate(-36.6) scale(0.95 1)" x="0" y="0" font-family="Liberation Serif, serif" font-size="152" text-anchor="middle" fill="#c9c9c9" stroke="none">n</text>
<circle cx="188.2" cy="1058.2" r="90" stroke="#e4e4e4" stroke-width="1.6" stroke-dasharray="7 2"/>
<circle cx="188.2" cy="1058.2" r="83.5" stroke="#ebebeb" stroke-width="1.4" stroke-dasharray="5 2"/>
<circle cx="188.2" cy="1058.2" r="68" stroke="#f0f0f0" stroke-width="19" stroke-dasharray="2.2 1.6"/>
<circle cx="188.2" cy="1058.2" r="68" stroke="#ffffff" stroke-width="21" stroke-dasharray="5 48.4" stroke-dashoffset="10"/>
<circle cx="188.2" cy="1058.2" r="56" stroke="#e6e6e6" stroke-width="1.5"/>
<circle cx="188.2" cy="1058.2" r="27" stroke="#f3f3f3" stroke-width="50" stroke-dasharray="1.8 1.6"/>
<path d="M206,1016 C196,996 160,994 146,1014 C132,1036 146,1062 172,1062 C190,1062 204,1054 226,1058 C252,1064 252,1102 236,1116 C218,1132 186,1126 178,1104 C170,1082 186,1062 206,1060" stroke="#cccccc" stroke-width="5"/>
<path d="M172,1062 C160,1074 154,1090 156,1110" stroke="#cccccc" stroke-width="5"/>
<path d="M206,1016 C212,1030 210,1046 200,1058" stroke="#cccccc" stroke-width="5"/>
</g>
</svg>
</body></html>
